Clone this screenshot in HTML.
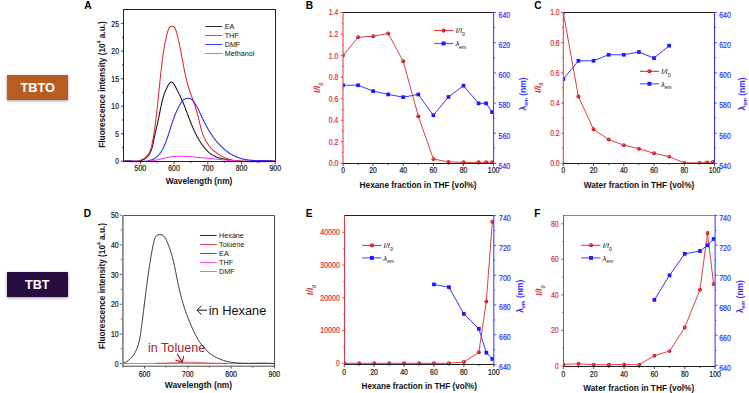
<!DOCTYPE html>
<html><head><meta charset="utf-8"><style>
html,body{margin:0;padding:0;background:#fff;width:749px;height:393px;overflow:hidden}
svg{display:block;font-family:"Liberation Sans", sans-serif}
</style></head><body>
<svg width="749" height="393" viewBox="0 0 749 393">
<rect width="749" height="393" fill="#fff"/>
<defs><filter id="sh" x="-20%" y="-30%" width="140%" height="160%"><feGaussianBlur in="SourceAlpha" stdDeviation="1.8"/><feOffset dx="0" dy="0.6" result="b"/><feComponentTransfer><feFuncA type="linear" slope="0.4"/></feComponentTransfer><feMerge><feMergeNode/><feMergeNode in="SourceGraphic"/></feMerge></filter></defs>
<rect x="7" y="75" width="61" height="25" fill="#b95b21" filter="url(#sh)"/>
<text x="37.7" y="92.4" font-size="13" fill="#fff" text-anchor="middle" font-weight="bold" font-style="normal" textLength="34.6" lengthAdjust="spacingAndGlyphs" >TBTO</text>
<rect x="7" y="272" width="61" height="25" fill="#29103f" filter="url(#sh)"/>
<text x="37.3" y="289" font-size="13" fill="#fff" text-anchor="middle" font-weight="bold" font-style="normal" textLength="24.6" lengthAdjust="spacingAndGlyphs" >TBT</text>
<text x="84.3" y="8.9" font-size="10.2" fill="#000" text-anchor="start" font-weight="bold" font-style="normal" >A</text>
<text x="305.7" y="8.9" font-size="10.2" fill="#000" text-anchor="start" font-weight="bold" font-style="normal" >B</text>
<text x="534.3" y="8.9" font-size="10.2" fill="#000" text-anchor="start" font-weight="bold" font-style="normal" >C</text>
<text x="83.8" y="216.5" font-size="10.2" fill="#000" text-anchor="start" font-weight="bold" font-style="normal" >D</text>
<text x="305.7" y="216.5" font-size="10.2" fill="#000" text-anchor="start" font-weight="bold" font-style="normal" >E</text>
<text x="534.3" y="216.5" font-size="10.2" fill="#000" text-anchor="start" font-weight="bold" font-style="normal" >F</text>
<path d="M123.5,161.31 L123.99,161.22 L124.49,161.14 L124.99,161.08 L125.49,161.03 L125.99,160.99 L126.5,160.97 L127,160.95 L127.51,160.95 L128.02,160.95 L128.53,160.96 L129.05,160.97 L129.56,160.99 L130.08,161.02 L130.59,161.04 L131.11,161.07 L131.62,161.1 L132.14,161.13 L132.66,161.16 L133.17,161.19 L133.69,161.21 L134.21,161.23 L134.72,161.24 L135.23,161.25 L135.75,161.25 L136.26,161.24 L136.77,161.23 L137.28,161.2 L137.79,161.16 L138.29,161.11 L138.79,161.04 L139.3,160.97 L139.79,160.87 L140.29,160.76 L140.78,160.63 L141.27,160.49 L141.76,160.32 L142.24,160.14 L142.72,159.94 L143.19,159.72 L143.66,159.49 L144.11,159.24 L144.56,158.98 L145,158.7 L145.43,158.41 L145.84,158.1 L146.25,157.78 L146.64,157.45 L147.02,157.11 L147.38,156.76 L147.73,156.39 L148.06,156.02 L148.38,155.63 L148.69,155.24 L148.98,154.84 L149.25,154.43 L149.52,154.01 L149.77,153.58 L150.01,153.15 L150.24,152.71 L150.46,152.26 L150.66,151.8 L150.86,151.34 L151.05,150.87 L151.23,150.4 L151.4,149.92 L151.57,149.44 L151.72,148.96 L151.87,148.46 L152.01,147.97 L152.15,147.47 L152.28,146.97 L152.41,146.47 L152.53,145.96 L152.65,145.45 L152.77,144.94 L152.88,144.43 L152.99,143.92 L153.1,143.41 L153.2,142.9 L153.31,142.39 L153.41,141.88 L153.52,141.37 L153.63,140.86 L153.73,140.35 L153.84,139.84 L153.94,139.34 L154.05,138.83 L154.16,138.33 L154.27,137.83 L154.38,137.32 L154.48,136.82 L154.59,136.32 L154.7,135.83 L154.81,135.33 L154.92,134.83 L155.03,134.33 L155.14,133.84 L155.25,133.34 L155.36,132.85 L155.47,132.35 L155.58,131.86 L155.69,131.37 L155.8,130.88 L155.91,130.38 L156.02,129.89 L156.14,129.4 L156.25,128.91 L156.36,128.42 L156.47,127.93 L156.58,127.44 L156.69,126.95 L156.8,126.46 L156.91,125.97 L157.02,125.48 L157.13,124.99 L157.24,124.5 L157.35,124.01 L157.46,123.52 L157.56,123.03 L157.67,122.54 L157.78,122.05 L157.89,121.56 L158,121.07 L158.1,120.57 L158.21,120.08 L158.32,119.59 L158.42,119.1 L158.53,118.61 L158.63,118.11 L158.74,117.62 L158.84,117.12 L158.94,116.63 L159.05,116.13 L159.15,115.63 L159.25,115.14 L159.35,114.64 L159.45,114.14 L159.55,113.64 L159.65,113.14 L159.75,112.64 L159.85,112.13 L159.95,111.63 L160.05,111.13 L160.15,110.62 L160.24,110.12 L160.34,109.62 L160.44,109.11 L160.54,108.61 L160.64,108.1 L160.74,107.6 L160.85,107.09 L160.95,106.59 L161.05,106.08 L161.16,105.58 L161.27,105.07 L161.37,104.57 L161.48,104.06 L161.6,103.56 L161.71,103.06 L161.82,102.55 L161.94,102.05 L162.06,101.55 L162.18,101.05 L162.31,100.55 L162.43,100.05 L162.56,99.55 L162.69,99.05 L162.83,98.56 L162.96,98.06 L163.1,97.57 L163.25,97.08 L163.39,96.58 L163.54,96.09 L163.7,95.61 L163.85,95.12 L164.02,94.63 L164.18,94.15 L164.35,93.67 L164.52,93.18 L164.7,92.71 L164.88,92.23 L165.07,91.75 L165.26,91.28 L165.45,90.81 L165.65,90.34 L165.85,89.87 L166.06,89.41 L166.28,88.94 L166.5,88.48 L166.72,88.03 L166.95,87.57 L167.19,87.12 L167.43,86.67 L167.68,86.22 L167.93,85.77 L168.19,85.33 L168.45,84.89 L168.73,84.46 L169,84.02 L169.29,83.61 L169.58,83.21 L169.88,82.86 L170.2,82.55 L170.52,82.31 L170.85,82.14 L171.2,82.06 L171.56,82.06 L171.92,82.15 L172.28,82.31 L172.63,82.54 L172.98,82.83 L173.31,83.19 L173.62,83.59 L173.93,84.04 L174.22,84.51 L174.51,85.01 L174.78,85.53 L175.05,86.05 L175.32,86.57 L175.58,87.08 L175.84,87.58 L176.1,88.07 L176.35,88.56 L176.6,89.04 L176.85,89.52 L177.1,89.99 L177.34,90.46 L177.58,90.92 L177.82,91.38 L178.05,91.83 L178.28,92.28 L178.52,92.73 L178.74,93.18 L178.97,93.62 L179.19,94.07 L179.42,94.51 L179.64,94.96 L179.85,95.4 L180.07,95.85 L180.28,96.3 L180.5,96.75 L180.71,97.2 L180.92,97.65 L181.12,98.1 L181.33,98.56 L181.53,99.01 L181.74,99.47 L181.94,99.93 L182.14,100.39 L182.33,100.85 L182.53,101.31 L182.73,101.78 L182.92,102.24 L183.12,102.71 L183.31,103.17 L183.5,103.64 L183.69,104.11 L183.88,104.58 L184.07,105.05 L184.26,105.52 L184.44,105.99 L184.63,106.47 L184.82,106.94 L185,107.41 L185.18,107.89 L185.37,108.36 L185.55,108.84 L185.73,109.31 L185.92,109.79 L186.1,110.27 L186.28,110.75 L186.46,111.22 L186.64,111.7 L186.82,112.18 L187,112.66 L187.18,113.14 L187.36,113.62 L187.54,114.1 L187.73,114.58 L187.91,115.06 L188.09,115.54 L188.27,116.02 L188.45,116.5 L188.63,116.98 L188.81,117.46 L189,117.94 L189.18,118.42 L189.36,118.9 L189.55,119.38 L189.73,119.86 L189.92,120.34 L190.1,120.81 L190.29,121.29 L190.48,121.77 L190.67,122.25 L190.86,122.73 L191.05,123.2 L191.24,123.68 L191.43,124.15 L191.62,124.63 L191.82,125.1 L192.02,125.58 L192.21,126.05 L192.41,126.52 L192.61,126.99 L192.81,127.47 L193.01,127.94 L193.22,128.4 L193.42,128.87 L193.63,129.34 L193.84,129.81 L194.05,130.27 L194.26,130.74 L194.48,131.2 L194.69,131.66 L194.91,132.12 L195.13,132.58 L195.35,133.04 L195.58,133.5 L195.8,133.95 L196.03,134.41 L196.26,134.86 L196.49,135.32 L196.73,135.77 L196.96,136.22 L197.2,136.66 L197.45,137.11 L197.69,137.55 L197.94,138 L198.19,138.44 L198.44,138.88 L198.69,139.32 L198.95,139.75 L199.21,140.19 L199.47,140.62 L199.74,141.05 L200.01,141.48 L200.28,141.91 L200.55,142.33 L200.83,142.76 L201.11,143.18 L201.4,143.6 L201.68,144.01 L201.97,144.43 L202.27,144.84 L202.56,145.25 L202.86,145.66 L203.17,146.07 L203.48,146.47 L203.79,146.87 L204.1,147.27 L204.42,147.67 L204.74,148.06 L205.07,148.45 L205.4,148.84 L205.73,149.22 L206.07,149.6 L206.41,149.98 L206.76,150.35 L207.11,150.71 L207.47,151.07 L207.83,151.42 L208.2,151.77 L208.57,152.12 L208.95,152.45 L209.33,152.78 L209.71,153.1 L210.11,153.42 L210.5,153.73 L210.91,154.03 L211.32,154.32 L211.73,154.6 L212.15,154.88 L212.58,155.15 L213.01,155.4 L213.45,155.65 L213.9,155.89 L214.35,156.12 L214.81,156.34 L215.28,156.55 L215.75,156.75 L216.22,156.94 L216.7,157.13 L217.19,157.3 L217.68,157.47 L218.17,157.63 L218.66,157.79 L219.16,157.94 L219.66,158.08 L220.17,158.22 L220.67,158.35 L221.17,158.48 L221.68,158.6 L222.19,158.72 L222.69,158.84 L223.2,158.95 L223.7,159.06 L224.21,159.17 L224.71,159.27 L225.22,159.38 L225.72,159.47 L226.23,159.57 L226.73,159.66 L227.24,159.75 L227.74,159.83 L228.25,159.92 L228.75,159.99 L229.26,160.07 L229.76,160.15 L230.27,160.22 L230.77,160.29 L231.28,160.35 L231.78,160.42 L232.29,160.48 L232.79,160.54 L233.3,160.59 L233.8,160.65 L234.31,160.7 L234.81,160.75 L235.32,160.79 L235.82,160.84 L236.33,160.88 L236.83,160.92 L237.34,160.96 L237.84,161 L238.35,161.03 L238.85,161.06 L239.36,161.09 L239.86,161.12 L240.36,161.15 L240.87,161.18 L241.37,161.2 L241.88,161.22 L242.39,161.24 L242.89,161.26 L243.4,161.28 L243.9,161.29 L244.41,161.31 L244.91,161.32 L245.42,161.33 L245.92,161.34 L246.43,161.35 L246.93,161.36 L247.44,161.37 L247.95,161.37 L248.45,161.38 L248.96,161.38 L249.46,161.38 L249.97,161.38 L250.48,161.38 L250.98,161.38 L251.49,161.38 L252,161.38 L252.5,161.38 L253.01,161.38 L253.52,161.37 L254.03,161.37 L254.53,161.36 L255.04,161.36 L255.55,161.35 L256.06,161.35 L256.57,161.34 L257.07,161.33 L257.58,161.33 L258.09,161.32 L258.6,161.31 L259.11,161.31 L259.62,161.3 L260.13,161.29 L260.64,161.28 L261.15,161.28 L261.66,161.27 L262.17,161.26 L262.68,161.26 L263.19,161.25 L263.7,161.24 L264.21,161.24 L264.72,161.23 L265.23,161.23 L265.74,161.22 L266.25,161.22 L266.76,161.22 L267.28,161.21 L267.79,161.21 L268.3,161.21 L268.81,161.21 L269.33,161.21 L269.84,161.21 L270.35,161.21 L270.87,161.22 L271.38,161.22 L271.9,161.22 L272.41,161.23 L272.93,161.24 L273.44,161.25 L273.96,161.26 L274.47,161.27 L274.99,161.28 L275.51,161.29" fill="none" stroke="#141414" stroke-width="1.05" stroke-linejoin="round"/>
<path d="M123.5,161.31 L124.22,161.23 L124.94,161.17 L125.66,161.13 L126.38,161.1 L127.1,161.1 L127.82,161.1 L128.53,161.12 L129.25,161.14 L129.96,161.17 L130.67,161.2 L131.38,161.22 L132.09,161.24 L132.8,161.26 L133.51,161.26 L134.22,161.25 L134.93,161.22 L135.64,161.18 L136.35,161.11 L137.05,161.02 L137.76,160.9 L138.47,160.75 L139.17,160.57 L139.87,160.35 L140.57,160.11 L141.25,159.85 L141.92,159.55 L142.58,159.23 L143.22,158.88 L143.85,158.5 L144.45,158.1 L145.03,157.68 L145.58,157.23 L146.11,156.76 L146.6,156.27 L147.07,155.76 L147.52,155.23 L147.93,154.68 L148.33,154.12 L148.7,153.53 L149.04,152.93 L149.37,152.32 L149.68,151.69 L149.97,151.05 L150.24,150.4 L150.49,149.74 L150.73,149.06 L150.95,148.38 L151.16,147.69 L151.36,146.99 L151.54,146.28 L151.72,145.57 L151.88,144.86 L152.04,144.14 L152.19,143.42 L152.34,142.7 L152.48,141.98 L152.61,141.25 L152.75,140.53 L152.88,139.81 L153.01,139.09 L153.14,138.38 L153.26,137.66 L153.38,136.95 L153.5,136.23 L153.62,135.52 L153.74,134.81 L153.85,134.1 L153.97,133.39 L154.08,132.68 L154.19,131.97 L154.3,131.27 L154.4,130.56 L154.51,129.86 L154.61,129.15 L154.71,128.45 L154.81,127.75 L154.91,127.04 L155.01,126.34 L155.1,125.64 L155.2,124.93 L155.29,124.23 L155.38,123.53 L155.47,122.83 L155.56,122.13 L155.65,121.43 L155.74,120.72 L155.83,120.02 L155.91,119.32 L156,118.62 L156.08,117.91 L156.17,117.21 L156.25,116.51 L156.33,115.8 L156.42,115.1 L156.5,114.39 L156.58,113.68 L156.66,112.98 L156.74,112.27 L156.82,111.56 L156.9,110.85 L156.98,110.14 L157.05,109.43 L157.13,108.72 L157.21,108.01 L157.29,107.3 L157.36,106.59 L157.44,105.88 L157.51,105.17 L157.59,104.45 L157.66,103.74 L157.74,103.03 L157.81,102.32 L157.89,101.6 L157.96,100.89 L158.04,100.17 L158.11,99.46 L158.18,98.74 L158.26,98.03 L158.33,97.31 L158.4,96.6 L158.48,95.88 L158.55,95.17 L158.62,94.45 L158.69,93.74 L158.77,93.02 L158.84,92.3 L158.91,91.59 L158.98,90.87 L159.06,90.16 L159.13,89.44 L159.2,88.72 L159.27,88.01 L159.35,87.29 L159.42,86.58 L159.49,85.86 L159.56,85.14 L159.64,84.43 L159.71,83.71 L159.78,83 L159.86,82.28 L159.93,81.57 L160.01,80.85 L160.08,80.14 L160.15,79.42 L160.23,78.71 L160.3,78 L160.38,77.28 L160.45,76.57 L160.53,75.86 L160.61,75.14 L160.68,74.43 L160.76,73.72 L160.84,73.01 L160.92,72.3 L160.99,71.59 L161.07,70.88 L161.15,70.17 L161.23,69.46 L161.31,68.75 L161.39,68.04 L161.47,67.33 L161.56,66.62 L161.64,65.92 L161.72,65.21 L161.81,64.51 L161.89,63.8 L161.97,63.1 L162.06,62.39 L162.15,61.69 L162.23,60.99 L162.32,60.29 L162.41,59.59 L162.5,58.89 L162.59,58.19 L162.68,57.49 L162.77,56.79 L162.87,56.09 L162.96,55.39 L163.06,54.69 L163.16,53.99 L163.26,53.3 L163.36,52.6 L163.46,51.9 L163.57,51.2 L163.68,50.5 L163.79,49.8 L163.9,49.1 L164.02,48.4 L164.14,47.7 L164.26,47 L164.38,46.29 L164.51,45.59 L164.64,44.89 L164.77,44.18 L164.91,43.47 L165.05,42.77 L165.19,42.06 L165.34,41.35 L165.49,40.63 L165.64,39.92 L165.8,39.21 L165.97,38.49 L166.13,37.77 L166.3,37.05 L166.48,36.33 L166.66,35.61 L166.84,34.88 L167.03,34.15 L167.23,33.42 L167.43,32.69 L167.63,31.96 L167.84,31.22 L168.06,30.5 L168.31,29.79 L168.58,29.11 L168.88,28.47 L169.23,27.88 L169.62,27.35 L170.07,26.89 L170.58,26.52 L171.12,26.27 L171.71,26.16 L172.31,26.21 L172.92,26.39 L173.5,26.69 L174.03,27.08 L174.5,27.56 L174.91,28.1 L175.26,28.7 L175.56,29.35 L175.82,30.04 L176.06,30.75 L176.27,31.48 L176.48,32.21 L176.68,32.94 L176.88,33.67 L177.07,34.39 L177.26,35.11 L177.44,35.83 L177.62,36.55 L177.8,37.27 L177.98,37.98 L178.15,38.69 L178.32,39.4 L178.49,40.11 L178.65,40.82 L178.81,41.52 L178.97,42.23 L179.12,42.93 L179.28,43.63 L179.43,44.33 L179.57,45.03 L179.72,45.72 L179.87,46.42 L180.01,47.12 L180.15,47.81 L180.29,48.5 L180.43,49.2 L180.56,49.89 L180.7,50.59 L180.83,51.28 L180.96,51.97 L181.1,52.66 L181.23,53.36 L181.36,54.05 L181.49,54.74 L181.61,55.43 L181.74,56.13 L181.87,56.82 L182,57.52 L182.13,58.21 L182.25,58.91 L182.38,59.6 L182.51,60.3 L182.64,61 L182.76,61.7 L182.89,62.4 L183.02,63.1 L183.15,63.8 L183.28,64.51 L183.41,65.21 L183.55,65.92 L183.68,66.62 L183.82,67.33 L183.95,68.03 L184.09,68.74 L184.23,69.44 L184.37,70.15 L184.51,70.86 L184.65,71.56 L184.8,72.27 L184.94,72.97 L185.09,73.68 L185.24,74.38 L185.4,75.09 L185.55,75.79 L185.71,76.5 L185.87,77.2 L186.03,77.9 L186.2,78.6 L186.37,79.3 L186.54,80 L186.71,80.7 L186.89,81.39 L187.07,82.09 L187.25,82.78 L187.44,83.47 L187.63,84.16 L187.82,84.85 L188.02,85.54 L188.22,86.22 L188.43,86.91 L188.63,87.59 L188.85,88.27 L189.06,88.94 L189.28,89.62 L189.5,90.29 L189.73,90.97 L189.96,91.64 L190.19,92.31 L190.42,92.98 L190.65,93.64 L190.89,94.31 L191.13,94.98 L191.37,95.64 L191.61,96.31 L191.85,96.97 L192.09,97.64 L192.33,98.3 L192.57,98.97 L192.81,99.63 L193.05,100.3 L193.29,100.96 L193.53,101.63 L193.77,102.3 L194.01,102.97 L194.24,103.64 L194.48,104.31 L194.71,104.98 L194.94,105.65 L195.16,106.33 L195.39,107 L195.61,107.68 L195.83,108.36 L196.04,109.04 L196.25,109.73 L196.46,110.41 L196.66,111.1 L196.85,111.8 L197.05,112.49 L197.24,113.19 L197.42,113.89 L197.6,114.59 L197.78,115.29 L197.96,116 L198.13,116.7 L198.3,117.41 L198.47,118.12 L198.64,118.83 L198.81,119.53 L198.98,120.24 L199.15,120.95 L199.31,121.66 L199.48,122.37 L199.65,123.08 L199.83,123.79 L200,124.5 L200.18,125.2 L200.36,125.91 L200.54,126.61 L200.72,127.31 L200.91,128.01 L201.1,128.71 L201.3,129.4 L201.5,130.09 L201.71,130.78 L201.92,131.47 L202.14,132.15 L202.37,132.83 L202.6,133.5 L202.84,134.17 L203.09,134.84 L203.34,135.5 L203.61,136.16 L203.88,136.82 L204.16,137.47 L204.45,138.11 L204.75,138.75 L205.06,139.38 L205.38,140.01 L205.71,140.63 L206.05,141.24 L206.4,141.85 L206.77,142.45 L207.15,143.05 L207.54,143.64 L207.94,144.22 L208.36,144.79 L208.78,145.36 L209.22,145.91 L209.67,146.46 L210.13,147.01 L210.6,147.54 L211.08,148.07 L211.57,148.59 L212.07,149.09 L212.58,149.6 L213.1,150.09 L213.63,150.57 L214.16,151.04 L214.71,151.51 L215.26,151.96 L215.83,152.41 L216.4,152.84 L216.98,153.27 L217.56,153.68 L218.16,154.09 L218.76,154.48 L219.36,154.86 L219.98,155.24 L220.6,155.6 L221.22,155.95 L221.86,156.29 L222.49,156.62 L223.14,156.93 L223.79,157.24 L224.44,157.53 L225.1,157.81 L225.76,158.08 L226.43,158.34 L227.1,158.58 L227.77,158.81 L228.45,159.03 L229.13,159.24 L229.81,159.43 L230.5,159.61 L231.19,159.78 L231.88,159.94 L232.58,160.09 L233.27,160.22 L233.98,160.35 L234.68,160.47 L235.38,160.57 L236.09,160.67 L236.8,160.76 L237.51,160.84 L238.23,160.91 L238.94,160.97 L239.66,161.03 L240.38,161.07 L241.1,161.11 L241.82,161.15 L242.55,161.17 L243.27,161.2 L244,161.21 L244.72,161.22 L245.45,161.23 L246.18,161.23 L246.91,161.22 L247.64,161.22 L248.37,161.2 L249.1,161.19 L249.83,161.17 L250.56,161.15 L251.29,161.13 L252.02,161.1 L252.76,161.08 L253.49,161.05 L254.22,161.02 L254.95,160.99 L255.68,160.96 L256.41,160.93 L257.14,160.9 L257.86,160.87 L258.59,160.84 L259.32,160.81 L260.04,160.79 L260.76,160.76 L261.49,160.74 L262.21,160.72 L262.93,160.71 L263.64,160.69 L264.36,160.68 L265.07,160.68 L265.78,160.68 L266.49,160.68 L267.2,160.69 L267.91,160.71 L268.61,160.73 L269.31,160.75 L270.01,160.79 L270.71,160.82 L271.4,160.87 L272.09,160.92 L272.78,160.98 L273.46,161.05 L274.14,161.13 L274.82,161.22 L275.49,161.31" fill="none" stroke="#e0262f" stroke-width="1.05" stroke-linejoin="round"/>
<path d="M123.51,161.28 L123.87,161.24 L124.23,161.21 L124.6,161.18 L124.97,161.15 L125.35,161.13 L125.73,161.12 L126.13,161.1 L126.52,161.09 L126.93,161.09 L127.34,161.08 L127.75,161.09 L128.17,161.09 L128.59,161.09 L129.02,161.1 L129.45,161.11 L129.89,161.13 L130.33,161.14 L130.77,161.16 L131.22,161.17 L131.67,161.19 L132.13,161.21 L132.58,161.23 L133.04,161.25 L133.51,161.27 L133.97,161.29 L134.44,161.31 L134.91,161.34 L135.38,161.35 L135.85,161.37 L136.32,161.39 L136.8,161.41 L137.27,161.42 L137.75,161.44 L138.23,161.45 L138.7,161.46 L139.18,161.46 L139.66,161.47 L140.14,161.47 L140.61,161.47 L141.09,161.46 L141.56,161.46 L142.04,161.44 L142.51,161.43 L142.98,161.41 L143.45,161.38 L143.92,161.36 L144.39,161.32 L144.85,161.28 L145.31,161.24 L145.77,161.19 L146.23,161.14 L146.68,161.08 L147.13,161.01 L147.58,160.94 L148.02,160.86 L148.46,160.78 L148.89,160.68 L149.32,160.58 L149.75,160.48 L150.17,160.36 L150.59,160.24 L151,160.11 L151.41,159.97 L151.81,159.82 L152.21,159.67 L152.6,159.5 L152.98,159.33 L153.36,159.15 L153.73,158.96 L154.09,158.75 L154.45,158.54 L154.81,158.32 L155.15,158.1 L155.5,157.86 L155.83,157.62 L156.16,157.36 L156.49,157.1 L156.8,156.84 L157.12,156.56 L157.43,156.28 L157.73,155.99 L158.03,155.69 L158.32,155.39 L158.61,155.08 L158.89,154.76 L159.17,154.44 L159.44,154.11 L159.71,153.77 L159.97,153.43 L160.23,153.08 L160.49,152.73 L160.74,152.37 L160.98,152.01 L161.22,151.64 L161.46,151.27 L161.7,150.89 L161.93,150.51 L162.15,150.12 L162.37,149.73 L162.59,149.34 L162.81,148.94 L163.02,148.54 L163.22,148.14 L163.43,147.73 L163.63,147.32 L163.83,146.9 L164.02,146.49 L164.21,146.07 L164.4,145.64 L164.59,145.22 L164.77,144.8 L164.95,144.37 L165.13,143.94 L165.3,143.51 L165.47,143.08 L165.64,142.64 L165.81,142.21 L165.97,141.77 L166.14,141.34 L166.3,140.9 L166.46,140.47 L166.61,140.03 L166.77,139.59 L166.92,139.16 L167.07,138.72 L167.22,138.29 L167.37,137.85 L167.52,137.42 L167.66,136.99 L167.8,136.56 L167.95,136.12 L168.09,135.7 L168.23,135.27 L168.37,134.84 L168.51,134.41 L168.64,133.99 L168.78,133.56 L168.92,133.14 L169.05,132.71 L169.18,132.29 L169.32,131.87 L169.45,131.45 L169.58,131.03 L169.71,130.61 L169.85,130.19 L169.98,129.77 L170.11,129.36 L170.24,128.94 L170.37,128.52 L170.5,128.11 L170.63,127.69 L170.76,127.28 L170.89,126.87 L171.02,126.46 L171.15,126.04 L171.28,125.63 L171.41,125.22 L171.54,124.81 L171.68,124.4 L171.81,123.99 L171.94,123.58 L172.08,123.17 L172.21,122.76 L172.35,122.36 L172.48,121.95 L172.62,121.54 L172.76,121.14 L172.9,120.73 L173.04,120.32 L173.18,119.92 L173.32,119.51 L173.47,119.11 L173.61,118.7 L173.76,118.3 L173.91,117.9 L174.05,117.49 L174.21,117.09 L174.36,116.68 L174.51,116.28 L174.67,115.88 L174.83,115.47 L174.99,115.07 L175.15,114.67 L175.31,114.27 L175.48,113.86 L175.65,113.46 L175.82,113.06 L175.99,112.66 L176.16,112.25 L176.34,111.85 L176.52,111.45 L176.7,111.05 L176.89,110.64 L177.07,110.24 L177.26,109.84 L177.46,109.43 L177.65,109.03 L177.85,108.63 L178.05,108.22 L178.26,107.82 L178.46,107.42 L178.67,107.01 L178.89,106.61 L179.1,106.21 L179.32,105.8 L179.55,105.4 L179.77,104.99 L180,104.58 L180.24,104.18 L180.48,103.78 L180.72,103.38 L180.97,102.98 L181.23,102.59 L181.49,102.21 L181.76,101.84 L182.04,101.47 L182.33,101.13 L182.62,100.79 L182.93,100.47 L183.25,100.16 L183.58,99.88 L183.92,99.61 L184.27,99.37 L184.64,99.14 L185.02,98.94 L185.41,98.77 L185.82,98.62 L186.23,98.49 L186.65,98.4 L187.07,98.32 L187.49,98.28 L187.92,98.26 L188.34,98.26 L188.76,98.3 L189.18,98.36 L189.59,98.45 L189.99,98.57 L190.37,98.71 L190.75,98.89 L191.11,99.09 L191.46,99.32 L191.8,99.57 L192.13,99.84 L192.44,100.14 L192.75,100.45 L193.05,100.77 L193.34,101.11 L193.62,101.46 L193.9,101.82 L194.16,102.19 L194.43,102.57 L194.68,102.95 L194.93,103.33 L195.17,103.72 L195.41,104.1 L195.65,104.49 L195.88,104.87 L196.1,105.26 L196.32,105.65 L196.54,106.04 L196.75,106.43 L196.96,106.82 L197.17,107.21 L197.38,107.6 L197.58,107.99 L197.78,108.38 L197.97,108.78 L198.17,109.17 L198.36,109.56 L198.55,109.96 L198.74,110.35 L198.92,110.75 L199.11,111.14 L199.29,111.54 L199.48,111.94 L199.66,112.33 L199.84,112.73 L200.03,113.13 L200.21,113.53 L200.39,113.93 L200.57,114.32 L200.76,114.72 L200.94,115.12 L201.12,115.52 L201.31,115.92 L201.5,116.32 L201.68,116.72 L201.87,117.12 L202.06,117.52 L202.25,117.92 L202.44,118.31 L202.63,118.71 L202.83,119.11 L203.02,119.51 L203.22,119.91 L203.41,120.31 L203.61,120.71 L203.81,121.1 L204.01,121.5 L204.21,121.9 L204.41,122.3 L204.61,122.69 L204.81,123.09 L205.02,123.48 L205.22,123.88 L205.43,124.28 L205.64,124.67 L205.85,125.06 L206.06,125.46 L206.27,125.85 L206.48,126.24 L206.7,126.63 L206.92,127.02 L207.13,127.41 L207.35,127.8 L207.57,128.19 L207.79,128.58 L208.02,128.96 L208.24,129.35 L208.47,129.74 L208.69,130.12 L208.92,130.5 L209.15,130.89 L209.38,131.27 L209.62,131.65 L209.85,132.03 L210.09,132.4 L210.33,132.78 L210.57,133.16 L210.81,133.53 L211.05,133.9 L211.3,134.28 L211.54,134.65 L211.79,135.02 L212.04,135.39 L212.29,135.75 L212.54,136.12 L212.8,136.48 L213.06,136.84 L213.31,137.21 L213.57,137.57 L213.84,137.92 L214.1,138.28 L214.37,138.64 L214.64,138.99 L214.9,139.34 L215.18,139.69 L215.45,140.04 L215.73,140.39 L216,140.73 L216.28,141.07 L216.56,141.42 L216.85,141.76 L217.13,142.09 L217.42,142.43 L217.71,142.76 L218,143.09 L218.3,143.42 L218.59,143.75 L218.89,144.08 L219.19,144.4 L219.5,144.72 L219.8,145.04 L220.11,145.36 L220.42,145.68 L220.73,145.99 L221.04,146.3 L221.36,146.61 L221.68,146.91 L222,147.22 L222.32,147.52 L222.65,147.82 L222.97,148.11 L223.3,148.41 L223.63,148.7 L223.97,148.99 L224.3,149.27 L224.64,149.56 L224.98,149.84 L225.32,150.12 L225.67,150.39 L226.02,150.66 L226.36,150.93 L226.72,151.2 L227.07,151.46 L227.42,151.72 L227.78,151.98 L228.14,152.23 L228.5,152.48 L228.86,152.73 L229.23,152.97 L229.59,153.21 L229.96,153.45 L230.33,153.68 L230.71,153.91 L231.08,154.14 L231.46,154.36 L231.84,154.58 L232.22,154.8 L232.6,155.01 L232.98,155.22 L233.37,155.42 L233.76,155.62 L234.15,155.82 L234.54,156.01 L234.93,156.2 L235.33,156.39 L235.72,156.57 L236.12,156.74 L236.52,156.92 L236.93,157.09 L237.33,157.25 L237.74,157.41 L238.15,157.57 L238.55,157.72 L238.97,157.87 L239.38,158.01 L239.79,158.15 L240.21,158.28 L240.63,158.41 L241.05,158.53 L241.47,158.65 L241.89,158.77 L242.32,158.88 L242.74,158.99 L243.17,159.09 L243.6,159.19 L244.03,159.28 L244.46,159.37 L244.9,159.45 L245.33,159.53 L245.77,159.61 L246.2,159.68 L246.64,159.75 L247.08,159.82 L247.52,159.88 L247.96,159.94 L248.41,159.99 L248.85,160.05 L249.29,160.09 L249.74,160.14 L250.19,160.18 L250.63,160.23 L251.08,160.26 L251.53,160.3 L251.98,160.33 L252.43,160.36 L252.88,160.39 L253.33,160.42 L253.78,160.44 L254.23,160.46 L254.68,160.48 L255.13,160.5 L255.59,160.52 L256.04,160.54 L256.49,160.55 L256.94,160.56 L257.4,160.57 L257.85,160.58 L258.3,160.59 L258.75,160.6 L259.21,160.61 L259.66,160.62 L260.11,160.62 L260.56,160.63 L261.02,160.63 L261.47,160.64 L261.92,160.64 L262.37,160.65 L262.82,160.65 L263.27,160.66 L263.72,160.66 L264.17,160.67 L264.61,160.68 L265.06,160.68 L265.51,160.69 L265.95,160.7 L266.4,160.71 L266.84,160.72 L267.28,160.73 L267.73,160.74 L268.17,160.75 L268.61,160.77 L269.04,160.78 L269.48,160.8 L269.92,160.82 L270.35,160.84 L270.79,160.86 L271.22,160.88 L271.65,160.91 L272.08,160.94 L272.51,160.97 L272.93,161 L273.36,161.04 L273.78,161.08 L274.2,161.12 L274.62,161.16 L275.04,161.21 L275.46,161.26" fill="none" stroke="#2424ff" stroke-width="1.05" stroke-linejoin="round"/>
<path d="M123.5,161.27 L123.81,161.29 L124.11,161.31 L124.42,161.34 L124.73,161.36 L125.04,161.38 L125.35,161.4 L125.65,161.42 L125.96,161.45 L126.27,161.47 L126.58,161.49 L126.88,161.5 L127.19,161.52 L127.5,161.54 L127.81,161.56 L128.12,161.58 L128.42,161.59 L128.73,161.61 L129.04,161.62 L129.35,161.64 L129.65,161.65 L129.96,161.67 L130.27,161.68 L130.57,161.69 L130.88,161.71 L131.19,161.72 L131.5,161.73 L131.8,161.74 L132.11,161.75 L132.42,161.76 L132.72,161.77 L133.03,161.77 L133.34,161.78 L133.65,161.79 L133.95,161.79 L134.26,161.8 L134.57,161.8 L134.87,161.81 L135.18,161.81 L135.49,161.81 L135.79,161.81 L136.1,161.82 L136.41,161.82 L136.71,161.82 L137.02,161.82 L137.32,161.81 L137.63,161.81 L137.94,161.81 L138.24,161.8 L138.55,161.8 L138.85,161.79 L139.16,161.79 L139.47,161.78 L139.77,161.77 L140.08,161.77 L140.38,161.76 L140.69,161.75 L140.99,161.74 L141.3,161.72 L141.61,161.71 L141.91,161.7 L142.22,161.69 L142.52,161.67 L142.83,161.65 L143.13,161.64 L143.44,161.62 L143.74,161.6 L144.05,161.58 L144.35,161.56 L144.66,161.54 L144.96,161.52 L145.26,161.5 L145.57,161.48 L145.87,161.45 L146.18,161.43 L146.48,161.4 L146.79,161.37 L147.09,161.35 L147.39,161.32 L147.7,161.29 L148,161.26 L148.31,161.23 L148.61,161.19 L148.91,161.16 L149.22,161.13 L149.52,161.09 L149.82,161.05 L150.13,161.02 L150.43,160.98 L150.73,160.94 L151.04,160.9 L151.34,160.86 L151.64,160.82 L151.94,160.77 L152.25,160.73 L152.55,160.68 L152.85,160.64 L153.15,160.59 L153.46,160.54 L153.76,160.49 L154.06,160.44 L154.36,160.39 L154.66,160.34 L154.97,160.28 L155.27,160.23 L155.57,160.17 L155.87,160.12 L156.17,160.06 L156.47,160 L156.78,159.94 L157.08,159.88 L157.38,159.81 L157.68,159.75 L157.98,159.69 L158.28,159.62 L158.58,159.55 L158.88,159.48 L159.18,159.42 L159.48,159.35 L159.78,159.28 L160.08,159.2 L160.38,159.13 L160.68,159.06 L160.98,158.99 L161.28,158.92 L161.58,158.84 L161.88,158.77 L162.18,158.69 L162.48,158.62 L162.78,158.55 L163.08,158.47 L163.38,158.4 L163.68,158.33 L163.98,158.25 L164.28,158.18 L164.58,158.11 L164.88,158.04 L165.18,157.97 L165.48,157.9 L165.78,157.83 L166.08,157.76 L166.38,157.69 L166.68,157.63 L166.98,157.56 L167.28,157.5 L167.58,157.43 L167.88,157.37 L168.18,157.31 L168.48,157.25 L168.78,157.2 L169.08,157.14 L169.38,157.09 L169.68,157.03 L169.98,156.98 L170.28,156.94 L170.58,156.89 L170.88,156.84 L171.19,156.8 L171.49,156.76 L171.79,156.72 L172.09,156.68 L172.39,156.65 L172.69,156.62 L172.99,156.58 L173.3,156.55 L173.6,156.52 L173.9,156.5 L174.2,156.47 L174.5,156.45 L174.81,156.43 L175.11,156.41 L175.41,156.39 L175.71,156.37 L176.02,156.35 L176.32,156.34 L176.62,156.32 L176.92,156.31 L177.23,156.3 L177.53,156.29 L177.83,156.28 L178.14,156.28 L178.44,156.27 L178.74,156.27 L179.05,156.26 L179.35,156.26 L179.65,156.26 L179.96,156.26 L180.26,156.26 L180.56,156.26 L180.87,156.27 L181.17,156.27 L181.47,156.28 L181.78,156.28 L182.08,156.29 L182.38,156.3 L182.69,156.31 L182.99,156.32 L183.3,156.33 L183.6,156.34 L183.9,156.35 L184.21,156.37 L184.51,156.38 L184.82,156.39 L185.12,156.41 L185.42,156.43 L185.73,156.44 L186.03,156.46 L186.34,156.48 L186.64,156.49 L186.95,156.51 L187.25,156.53 L187.55,156.55 L187.86,156.57 L188.16,156.59 L188.47,156.61 L188.77,156.63 L189.08,156.65 L189.38,156.67 L189.68,156.7 L189.99,156.72 L190.29,156.74 L190.6,156.76 L190.9,156.79 L191.21,156.81 L191.51,156.83 L191.82,156.86 L192.12,156.88 L192.42,156.9 L192.73,156.93 L193.03,156.95 L193.34,156.98 L193.64,157 L193.95,157.02 L194.25,157.05 L194.56,157.07 L194.86,157.1 L195.16,157.12 L195.47,157.15 L195.77,157.18 L196.08,157.2 L196.38,157.23 L196.69,157.25 L196.99,157.28 L197.3,157.31 L197.6,157.33 L197.9,157.36 L198.21,157.39 L198.51,157.41 L198.82,157.44 L199.12,157.47 L199.43,157.5 L199.73,157.52 L200.04,157.55 L200.34,157.58 L200.64,157.61 L200.95,157.64 L201.25,157.66 L201.56,157.69 L201.86,157.72 L202.17,157.75 L202.47,157.78 L202.78,157.81 L203.08,157.83 L203.39,157.86 L203.69,157.89 L204,157.92 L204.3,157.95 L204.6,157.98 L204.91,158.01 L205.21,158.04 L205.52,158.07 L205.82,158.1 L206.13,158.13 L206.43,158.16 L206.74,158.19 L207.04,158.22 L207.35,158.25 L207.65,158.28 L207.96,158.31 L208.26,158.34 L208.56,158.37 L208.87,158.4 L209.17,158.43 L209.48,158.46 L209.78,158.49 L210.09,158.52 L210.39,158.55 L210.7,158.58 L211,158.61 L211.31,158.64 L211.61,158.67 L211.92,158.7 L212.22,158.73 L212.53,158.76 L212.83,158.79 L213.14,158.82 L213.44,158.85 L213.75,158.88 L214.05,158.91 L214.36,158.94 L214.66,158.98 L214.96,159.01 L215.27,159.04 L215.57,159.07 L215.88,159.1 L216.18,159.13 L216.49,159.16 L216.79,159.19 L217.1,159.22 L217.4,159.25 L217.71,159.28 L218.01,159.31 L218.32,159.34 L218.62,159.37 L218.93,159.4 L219.23,159.43 L219.54,159.46 L219.84,159.49 L220.15,159.52 L220.45,159.55 L220.76,159.58 L221.06,159.61 L221.37,159.64 L221.67,159.67 L221.98,159.7 L222.28,159.73 L222.59,159.76 L222.89,159.79 L223.2,159.81 L223.5,159.84 L223.81,159.87 L224.11,159.9 L224.42,159.93 L224.72,159.96 L225.03,159.99 L225.33,160.02 L225.64,160.04 L225.94,160.07 L226.25,160.1 L226.55,160.13 L226.86,160.16 L227.16,160.18 L227.47,160.21 L227.77,160.24 L228.08,160.27 L228.38,160.29 L228.69,160.32 L228.99,160.35 L229.3,160.37 L229.61,160.4 L229.91,160.43 L230.22,160.45 L230.52,160.48 L230.83,160.51 L231.13,160.53 L231.44,160.56 L231.74,160.58 L232.05,160.61 L232.35,160.63 L232.66,160.66 L232.96,160.68 L233.27,160.71 L233.57,160.73 L233.88,160.76 L234.18,160.78 L234.49,160.81 L234.8,160.83 L235.1,160.85 L235.41,160.88 L235.71,160.9 L236.02,160.92 L236.32,160.94 L236.63,160.97 L236.93,160.99 L237.24,161.01 L237.54,161.03 L237.85,161.06 L238.15,161.08 L238.46,161.1 L238.77,161.12 L239.07,161.14 L239.38,161.16 L239.68,161.18 L239.99,161.2 L240.29,161.22 L240.6,161.24 L240.9,161.26 L241.21,161.28 L241.52,161.3 L241.82,161.32 L242.13,161.33 L242.43,161.35 L242.74,161.37 L243.04,161.39 L243.35,161.4 L243.65,161.42 L243.96,161.44 L244.27,161.45 L244.57,161.47 L244.88,161.49 L245.18,161.5 L245.49,161.52 L245.79,161.53 L246.1,161.55 L246.41,161.56 L246.71,161.58 L247.02,161.59 L247.32,161.6 L247.63,161.62 L247.93,161.63 L248.24,161.64 L248.55,161.65 L248.85,161.67 L249.16,161.68 L249.46,161.69 L249.77,161.7 L250.08,161.71 L250.38,161.72 L250.69,161.73 L250.99,161.74 L251.3,161.75 L251.6,161.76 L251.91,161.77 L252.22,161.77 L252.52,161.78 L252.83,161.79 L253.13,161.8 L253.44,161.8 L253.75,161.81 L254.05,161.82 L254.36,161.82 L254.66,161.83 L254.97,161.83 L255.28,161.84 L255.58,161.84 L255.89,161.84 L256.2,161.85 L256.5,161.85 L256.81,161.85 L257.11,161.85 L257.42,161.86 L257.73,161.86 L258.03,161.86 L258.34,161.86 L258.64,161.86 L258.95,161.86 L259.26,161.86 L259.56,161.86 L259.87,161.85 L260.18,161.85 L260.48,161.85 L260.79,161.85 L261.09,161.84 L261.4,161.84 L261.71,161.84 L262.01,161.83 L262.32,161.83 L262.63,161.82 L262.93,161.82 L263.24,161.81 L263.54,161.8 L263.85,161.79 L264.16,161.79 L264.46,161.78 L264.77,161.77 L265.08,161.76 L265.38,161.75 L265.69,161.74 L266,161.73 L266.3,161.72 L266.61,161.71 L266.92,161.7 L267.22,161.68 L267.53,161.67 L267.84,161.66 L268.14,161.64 L268.45,161.63 L268.76,161.61 L269.06,161.6 L269.37,161.58 L269.68,161.56 L269.98,161.55 L270.29,161.53 L270.6,161.51 L270.9,161.49 L271.21,161.47 L271.52,161.45 L271.82,161.43 L272.13,161.41 L272.44,161.39 L272.74,161.37 L273.05,161.35 L273.36,161.32 L273.66,161.3 L273.97,161.28 L274.28,161.25 L274.58,161.23 L274.89,161.2 L275.2,161.18 L275.5,161.15" fill="none" stroke="#ff30ff" stroke-width="1.05" stroke-linejoin="round"/>
<rect x="123.5" y="9.5" width="152" height="152" fill="none" stroke="#222" stroke-width="1"/>
<line x1="123.5" y1="161.3" x2="120.9" y2="161.3" stroke="#222" stroke-width="0.8" />
<line x1="123.5" y1="133.76" x2="120.9" y2="133.76" stroke="#222" stroke-width="0.8" />
<line x1="123.5" y1="106.22" x2="120.9" y2="106.22" stroke="#222" stroke-width="0.8" />
<line x1="123.5" y1="78.68" x2="120.9" y2="78.68" stroke="#222" stroke-width="0.8" />
<line x1="123.5" y1="51.14" x2="120.9" y2="51.14" stroke="#222" stroke-width="0.8" />
<line x1="123.5" y1="23.6" x2="120.9" y2="23.6" stroke="#222" stroke-width="0.8" />
<line x1="123.5" y1="147.53" x2="122" y2="147.53" stroke="#222" stroke-width="0.8" />
<line x1="123.5" y1="119.99" x2="122" y2="119.99" stroke="#222" stroke-width="0.8" />
<line x1="123.5" y1="92.45" x2="122" y2="92.45" stroke="#222" stroke-width="0.8" />
<line x1="123.5" y1="64.91" x2="122" y2="64.91" stroke="#222" stroke-width="0.8" />
<line x1="123.5" y1="37.37" x2="122" y2="37.37" stroke="#222" stroke-width="0.8" />
<text x="119" y="164.24" font-size="8.2" fill="#222" stroke="#222" stroke-width="0.22" text-anchor="end" textLength="3.75" lengthAdjust="spacingAndGlyphs">0</text>
<text x="119" y="136.7" font-size="8.2" fill="#222" stroke="#222" stroke-width="0.22" text-anchor="end" textLength="3.75" lengthAdjust="spacingAndGlyphs">5</text>
<text x="119" y="109.16" font-size="8.2" fill="#222" stroke="#222" stroke-width="0.22" text-anchor="end" textLength="7.7" lengthAdjust="spacingAndGlyphs">10</text>
<text x="119" y="81.62" font-size="8.2" fill="#222" stroke="#222" stroke-width="0.22" text-anchor="end" textLength="7.7" lengthAdjust="spacingAndGlyphs">15</text>
<text x="119" y="54.08" font-size="8.2" fill="#222" stroke="#222" stroke-width="0.22" text-anchor="end" textLength="7.7" lengthAdjust="spacingAndGlyphs">20</text>
<text x="119" y="26.54" font-size="8.2" fill="#222" stroke="#222" stroke-width="0.22" text-anchor="end" textLength="7.7" lengthAdjust="spacingAndGlyphs">25</text>
<line x1="140.36" y1="161.5" x2="140.36" y2="164.1" stroke="#222" stroke-width="0.8" />
<line x1="174.07" y1="161.5" x2="174.07" y2="164.1" stroke="#222" stroke-width="0.8" />
<line x1="207.78" y1="161.5" x2="207.78" y2="164.1" stroke="#222" stroke-width="0.8" />
<line x1="241.49" y1="161.5" x2="241.49" y2="164.1" stroke="#222" stroke-width="0.8" />
<line x1="275.2" y1="161.5" x2="275.2" y2="164.1" stroke="#222" stroke-width="0.8" />
<line x1="157.21" y1="161.5" x2="157.21" y2="163" stroke="#222" stroke-width="0.8" />
<line x1="190.92" y1="161.5" x2="190.92" y2="163" stroke="#222" stroke-width="0.8" />
<line x1="224.63" y1="161.5" x2="224.63" y2="163" stroke="#222" stroke-width="0.8" />
<line x1="258.34" y1="161.5" x2="258.34" y2="163" stroke="#222" stroke-width="0.8" />
<text x="140.36" y="171.14" font-size="8.2" fill="#222" stroke="#222" stroke-width="0.22" text-anchor="middle" textLength="11.65" lengthAdjust="spacingAndGlyphs">500</text>
<text x="174.07" y="171.14" font-size="8.2" fill="#222" stroke="#222" stroke-width="0.22" text-anchor="middle" textLength="11.65" lengthAdjust="spacingAndGlyphs">600</text>
<text x="207.78" y="171.14" font-size="8.2" fill="#222" stroke="#222" stroke-width="0.22" text-anchor="middle" textLength="11.65" lengthAdjust="spacingAndGlyphs">700</text>
<text x="241.49" y="171.14" font-size="8.2" fill="#222" stroke="#222" stroke-width="0.22" text-anchor="middle" textLength="11.65" lengthAdjust="spacingAndGlyphs">800</text>
<text x="275.2" y="171.14" font-size="8.2" fill="#222" stroke="#222" stroke-width="0.22" text-anchor="middle" textLength="11.65" lengthAdjust="spacingAndGlyphs">900</text>
<text x="199" y="183.6" font-size="8.5" fill="#111" text-anchor="middle" font-weight="bold" font-style="normal" textLength="66.7" lengthAdjust="spacingAndGlyphs" >Wavelength (nm)</text>
<text transform="translate(104.7,84.45) rotate(-90)" x="0" y="0" font-size="8.3" font-weight="bold" fill="#111" text-anchor="middle" textLength="126.7" lengthAdjust="spacingAndGlyphs">Fluorescence intensity (10<tspan font-size="5" dy="-3.7">4</tspan><tspan dy="3.7"> a.u.)</tspan></text>
<line x1="205.2" y1="26.5" x2="222.4" y2="26.5" stroke="#1a1a1a" stroke-width="0.9" />
<text x="224.7" y="29.1" font-size="7.2" fill="#111" text-anchor="start" font-weight="normal" font-style="normal" >EA</text>
<line x1="205.2" y1="35.5" x2="222.4" y2="35.5" stroke="#e0323a" stroke-width="0.9" />
<text x="224.7" y="38.1" font-size="7.2" fill="#111" text-anchor="start" font-weight="normal" font-style="normal" >THF</text>
<line x1="205.2" y1="44.5" x2="222.4" y2="44.5" stroke="#2626ff" stroke-width="0.9" />
<text x="224.7" y="47.1" font-size="7.2" fill="#111" text-anchor="start" font-weight="normal" font-style="normal" >DMF</text>
<line x1="205.2" y1="53.5" x2="222.4" y2="53.5" stroke="#ff33ff" stroke-width="0.9" />
<text x="224.7" y="56.1" font-size="7.2" fill="#111" text-anchor="start" font-weight="normal" font-style="normal" >Methanol</text>
<clipPath id="c343_12"><rect x="343" y="12.5" width="150.6" height="151"/></clipPath><g clip-path="url(#c343_12)">
<polyline points="343,85.23 358.06,85.23 373.12,91.12 388.18,94.44 403.24,97.15 418.3,94.44 433.36,115.26 448.42,97 463.48,85.69 478.54,103.34 486.07,103.34 492.09,112.09" fill="none" stroke="#2b2bff" stroke-width="0.95" stroke-linejoin="round"/>
<polyline points="343,55.62 358.06,37.3 373.12,36.22 388.18,33.53 403.24,61.22 418.3,116.19 433.36,159.09 448.42,161.89 463.48,162.32 478.54,162.32 486.07,162.11 492.09,162.32" fill="none" stroke="#d42a2a" stroke-width="0.9" stroke-linejoin="round"/>
<rect x="341.15" y="83.38" width="3.7" height="3.7" fill="#1a1aff"/>
<rect x="356.21" y="83.38" width="3.7" height="3.7" fill="#1a1aff"/>
<rect x="371.27" y="89.27" width="3.7" height="3.7" fill="#1a1aff"/>
<rect x="386.33" y="92.59" width="3.7" height="3.7" fill="#1a1aff"/>
<rect x="401.39" y="95.3" width="3.7" height="3.7" fill="#1a1aff"/>
<rect x="416.45" y="92.59" width="3.7" height="3.7" fill="#1a1aff"/>
<rect x="431.51" y="113.41" width="3.7" height="3.7" fill="#1a1aff"/>
<rect x="446.57" y="95.15" width="3.7" height="3.7" fill="#1a1aff"/>
<rect x="461.63" y="83.84" width="3.7" height="3.7" fill="#1a1aff"/>
<rect x="476.69" y="101.49" width="3.7" height="3.7" fill="#1a1aff"/>
<rect x="484.22" y="101.49" width="3.7" height="3.7" fill="#1a1aff"/>
<rect x="490.24" y="110.24" width="3.7" height="3.7" fill="#1a1aff"/>
<circle cx="343" cy="55.62" r="1.95" fill="#d01a22"/>
<circle cx="342.5" cy="55.17" r="0.55" fill="#f6c4c4"/>
<circle cx="358.06" cy="37.3" r="1.95" fill="#d01a22"/>
<circle cx="357.56" cy="36.85" r="0.55" fill="#f6c4c4"/>
<circle cx="373.12" cy="36.22" r="1.95" fill="#d01a22"/>
<circle cx="372.62" cy="35.77" r="0.55" fill="#f6c4c4"/>
<circle cx="388.18" cy="33.53" r="1.95" fill="#d01a22"/>
<circle cx="387.68" cy="33.08" r="0.55" fill="#f6c4c4"/>
<circle cx="403.24" cy="61.22" r="1.95" fill="#d01a22"/>
<circle cx="402.74" cy="60.77" r="0.55" fill="#f6c4c4"/>
<circle cx="418.3" cy="116.19" r="1.95" fill="#d01a22"/>
<circle cx="417.8" cy="115.74" r="0.55" fill="#f6c4c4"/>
<circle cx="433.36" cy="159.09" r="1.95" fill="#d01a22"/>
<circle cx="432.86" cy="158.64" r="0.55" fill="#f6c4c4"/>
<circle cx="448.42" cy="161.89" r="1.95" fill="#d01a22"/>
<circle cx="447.92" cy="161.44" r="0.55" fill="#f6c4c4"/>
<circle cx="463.48" cy="162.32" r="1.95" fill="#d01a22"/>
<circle cx="462.98" cy="161.87" r="0.55" fill="#f6c4c4"/>
<circle cx="478.54" cy="162.32" r="1.95" fill="#d01a22"/>
<circle cx="478.04" cy="161.87" r="0.55" fill="#f6c4c4"/>
<circle cx="486.07" cy="162.11" r="1.95" fill="#d01a22"/>
<circle cx="485.57" cy="161.66" r="0.55" fill="#f6c4c4"/>
<circle cx="492.09" cy="162.32" r="1.95" fill="#d01a22"/>
<circle cx="491.59" cy="161.87" r="0.55" fill="#f6c4c4"/>
</g>
<line x1="343" y1="12.5" x2="493.6" y2="12.5" stroke="#222" stroke-width="1.0" />
<line x1="343" y1="163.5" x2="493.6" y2="163.5" stroke="#222" stroke-width="1.0" />
<line x1="343" y1="12" x2="343" y2="164" stroke="#d8343c" stroke-width="1.0" />
<line x1="493.6" y1="12" x2="493.6" y2="164" stroke="#3030ff" stroke-width="1.0" />
<line x1="343" y1="163.4" x2="340.5" y2="163.4" stroke="#d8343c" stroke-width="0.8" />
<line x1="343" y1="141.84" x2="340.5" y2="141.84" stroke="#d8343c" stroke-width="0.8" />
<line x1="343" y1="120.29" x2="340.5" y2="120.29" stroke="#d8343c" stroke-width="0.8" />
<line x1="343" y1="98.73" x2="340.5" y2="98.73" stroke="#d8343c" stroke-width="0.8" />
<line x1="343" y1="77.18" x2="340.5" y2="77.18" stroke="#d8343c" stroke-width="0.8" />
<line x1="343" y1="55.62" x2="340.5" y2="55.62" stroke="#d8343c" stroke-width="0.8" />
<line x1="343" y1="34.06" x2="340.5" y2="34.06" stroke="#d8343c" stroke-width="0.8" />
<line x1="343" y1="12.51" x2="340.5" y2="12.51" stroke="#d8343c" stroke-width="0.8" />
<line x1="343" y1="152.62" x2="341.6" y2="152.62" stroke="#d8343c" stroke-width="0.8" />
<line x1="343" y1="131.07" x2="341.6" y2="131.07" stroke="#d8343c" stroke-width="0.8" />
<line x1="343" y1="109.51" x2="341.6" y2="109.51" stroke="#d8343c" stroke-width="0.8" />
<line x1="343" y1="87.95" x2="341.6" y2="87.95" stroke="#d8343c" stroke-width="0.8" />
<line x1="343" y1="66.4" x2="341.6" y2="66.4" stroke="#d8343c" stroke-width="0.8" />
<line x1="343" y1="44.84" x2="341.6" y2="44.84" stroke="#d8343c" stroke-width="0.8" />
<line x1="343" y1="23.29" x2="341.6" y2="23.29" stroke="#d8343c" stroke-width="0.8" />
<text x="338.4" y="166.34" font-size="8.2" fill="#d8343c" stroke="#d8343c" stroke-width="0.22" text-anchor="end" textLength="9.55" lengthAdjust="spacingAndGlyphs">0.0</text>
<text x="338.4" y="144.78" font-size="8.2" fill="#d8343c" stroke="#d8343c" stroke-width="0.22" text-anchor="end" textLength="9.55" lengthAdjust="spacingAndGlyphs">0.2</text>
<text x="338.4" y="123.22" font-size="8.2" fill="#d8343c" stroke="#d8343c" stroke-width="0.22" text-anchor="end" textLength="9.55" lengthAdjust="spacingAndGlyphs">0.4</text>
<text x="338.4" y="101.67" font-size="8.2" fill="#d8343c" stroke="#d8343c" stroke-width="0.22" text-anchor="end" textLength="9.55" lengthAdjust="spacingAndGlyphs">0.6</text>
<text x="338.4" y="80.11" font-size="8.2" fill="#d8343c" stroke="#d8343c" stroke-width="0.22" text-anchor="end" textLength="9.55" lengthAdjust="spacingAndGlyphs">0.8</text>
<text x="338.4" y="58.56" font-size="8.2" fill="#d8343c" stroke="#d8343c" stroke-width="0.22" text-anchor="end" textLength="9.55" lengthAdjust="spacingAndGlyphs">1.0</text>
<text x="338.4" y="37" font-size="8.2" fill="#d8343c" stroke="#d8343c" stroke-width="0.22" text-anchor="end" textLength="9.55" lengthAdjust="spacingAndGlyphs">1.2</text>
<text x="338.4" y="15.44" font-size="8.2" fill="#d8343c" stroke="#d8343c" stroke-width="0.22" text-anchor="end" textLength="9.55" lengthAdjust="spacingAndGlyphs">1.4</text>
<line x1="493.6" y1="163.4" x2="496.1" y2="163.4" stroke="#3030ff" stroke-width="0.8" />
<line x1="493.6" y1="133.22" x2="496.1" y2="133.22" stroke="#3030ff" stroke-width="0.8" />
<line x1="493.6" y1="103.04" x2="496.1" y2="103.04" stroke="#3030ff" stroke-width="0.8" />
<line x1="493.6" y1="72.86" x2="496.1" y2="72.86" stroke="#3030ff" stroke-width="0.8" />
<line x1="493.6" y1="42.68" x2="496.1" y2="42.68" stroke="#3030ff" stroke-width="0.8" />
<line x1="493.6" y1="12.5" x2="496.1" y2="12.5" stroke="#3030ff" stroke-width="0.8" />
<line x1="493.6" y1="148.31" x2="495" y2="148.31" stroke="#3030ff" stroke-width="0.8" />
<line x1="493.6" y1="118.13" x2="495" y2="118.13" stroke="#3030ff" stroke-width="0.8" />
<line x1="493.6" y1="87.95" x2="495" y2="87.95" stroke="#3030ff" stroke-width="0.8" />
<line x1="493.6" y1="57.77" x2="495" y2="57.77" stroke="#3030ff" stroke-width="0.8" />
<line x1="493.6" y1="27.59" x2="495" y2="27.59" stroke="#3030ff" stroke-width="0.8" />
<text x="498.5" y="168.84" font-size="8.2" fill="#3030ff" stroke="#3030ff" stroke-width="0.22" text-anchor="start" textLength="11.65" lengthAdjust="spacingAndGlyphs">540</text>
<text x="498.5" y="138.66" font-size="8.2" fill="#3030ff" stroke="#3030ff" stroke-width="0.22" text-anchor="start" textLength="11.65" lengthAdjust="spacingAndGlyphs">560</text>
<text x="498.5" y="108.48" font-size="8.2" fill="#3030ff" stroke="#3030ff" stroke-width="0.22" text-anchor="start" textLength="11.65" lengthAdjust="spacingAndGlyphs">580</text>
<text x="498.5" y="78.3" font-size="8.2" fill="#3030ff" stroke="#3030ff" stroke-width="0.22" text-anchor="start" textLength="11.65" lengthAdjust="spacingAndGlyphs">600</text>
<text x="498.5" y="48.12" font-size="8.2" fill="#3030ff" stroke="#3030ff" stroke-width="0.22" text-anchor="start" textLength="11.65" lengthAdjust="spacingAndGlyphs">620</text>
<text x="498.5" y="17.94" font-size="8.2" fill="#3030ff" stroke="#3030ff" stroke-width="0.22" text-anchor="start" textLength="11.65" lengthAdjust="spacingAndGlyphs">640</text>
<line x1="343" y1="163.5" x2="343" y2="166" stroke="#222" stroke-width="0.8" />
<line x1="373.12" y1="163.5" x2="373.12" y2="166" stroke="#222" stroke-width="0.8" />
<line x1="403.24" y1="163.5" x2="403.24" y2="166" stroke="#222" stroke-width="0.8" />
<line x1="433.36" y1="163.5" x2="433.36" y2="166" stroke="#222" stroke-width="0.8" />
<line x1="463.48" y1="163.5" x2="463.48" y2="166" stroke="#222" stroke-width="0.8" />
<line x1="493.6" y1="163.5" x2="493.6" y2="166" stroke="#222" stroke-width="0.8" />
<line x1="358.06" y1="163.5" x2="358.06" y2="164.9" stroke="#222" stroke-width="0.8" />
<line x1="388.18" y1="163.5" x2="388.18" y2="164.9" stroke="#222" stroke-width="0.8" />
<line x1="418.3" y1="163.5" x2="418.3" y2="164.9" stroke="#222" stroke-width="0.8" />
<line x1="448.42" y1="163.5" x2="448.42" y2="164.9" stroke="#222" stroke-width="0.8" />
<line x1="478.54" y1="163.5" x2="478.54" y2="164.9" stroke="#222" stroke-width="0.8" />
<text x="343" y="173.34" font-size="8.2" fill="#222" stroke="#222" stroke-width="0.22" text-anchor="middle" textLength="3.75" lengthAdjust="spacingAndGlyphs">0</text>
<text x="373.12" y="173.34" font-size="8.2" fill="#222" stroke="#222" stroke-width="0.22" text-anchor="middle" textLength="7.7" lengthAdjust="spacingAndGlyphs">20</text>
<text x="403.24" y="173.34" font-size="8.2" fill="#222" stroke="#222" stroke-width="0.22" text-anchor="middle" textLength="7.7" lengthAdjust="spacingAndGlyphs">40</text>
<text x="433.36" y="173.34" font-size="8.2" fill="#222" stroke="#222" stroke-width="0.22" text-anchor="middle" textLength="7.7" lengthAdjust="spacingAndGlyphs">60</text>
<text x="463.48" y="173.34" font-size="8.2" fill="#222" stroke="#222" stroke-width="0.22" text-anchor="middle" textLength="7.7" lengthAdjust="spacingAndGlyphs">80</text>
<text x="493.6" y="173.34" font-size="8.2" fill="#222" stroke="#222" stroke-width="0.22" text-anchor="middle" textLength="11.65" lengthAdjust="spacingAndGlyphs">100</text>
<text x="418.1" y="187.5" font-size="8.5" fill="#111" text-anchor="middle" font-weight="bold" font-style="normal" textLength="117" lengthAdjust="spacingAndGlyphs" >Hexane fraction in THF (vol%)</text>
<text transform="translate(320.3,87.8) rotate(-90)" font-size="8.6" font-weight="bold" font-style="italic" fill="#d8343c" text-anchor="middle">I/I<tspan font-size="5.6" dy="2.4">0</tspan></text>
<text transform="translate(525.5,94) rotate(-90)" font-size="8.6" font-weight="bold" fill="#3030ff" text-anchor="middle" textLength="33" lengthAdjust="spacingAndGlyphs"><tspan>λ</tspan><tspan font-size="5.4" dy="2.2">em</tspan><tspan dy="-2.2"> (nm)</tspan></text>
<line x1="434" y1="30.6" x2="453.4" y2="30.6" stroke="#d42a2a" stroke-width="1.0" />
<circle cx="443.6" cy="30.6" r="2.05" fill="#d01a22"/>
<circle cx="443.1" cy="30.15" r="0.55" fill="#f6c4c4"/>
<line x1="434" y1="43.5" x2="453.4" y2="43.5" stroke="#5c5cff" stroke-width="1.2" />
<rect x="441.65" y="41.55" width="3.9" height="3.9" fill="#1a1aff"/>
<text x="455.7" y="33.3" font-size="7.6" font-style="italic" fill="#111">I/I<tspan font-size="5.2" font-style="normal" dy="2.6">0</tspan></text>
<text x="455.4" y="46.3" font-size="7.8" font-style="italic" fill="#111">λ<tspan font-size="5" font-style="normal" dy="2.4">em</tspan></text>
<clipPath id="c563_12"><rect x="563.3" y="12.5" width="151.2" height="151"/></clipPath><g clip-path="url(#c563_12)">
<polyline points="563.3,79.05 578.42,60.79 593.54,60.79 608.66,54.75 623.78,54.75 638.9,52.04 654.02,58.07 669.14,45.7" fill="none" stroke="#2b2bff" stroke-width="0.95" stroke-linejoin="round"/>
<polyline points="563.3,12.5 578.42,96.55 593.54,129.3 608.66,139.56 623.78,145.14 638.9,148.76 654.02,153.29 669.14,156.61 684.26,162.95 699.38,162.95 706.94,162.49 712.99,161.89" fill="none" stroke="#d42a2a" stroke-width="0.9" stroke-linejoin="round"/>
<rect x="561.45" y="77.2" width="3.7" height="3.7" fill="#1a1aff"/>
<rect x="576.57" y="58.94" width="3.7" height="3.7" fill="#1a1aff"/>
<rect x="591.69" y="58.94" width="3.7" height="3.7" fill="#1a1aff"/>
<rect x="606.81" y="52.9" width="3.7" height="3.7" fill="#1a1aff"/>
<rect x="621.93" y="52.9" width="3.7" height="3.7" fill="#1a1aff"/>
<rect x="637.05" y="50.19" width="3.7" height="3.7" fill="#1a1aff"/>
<rect x="652.17" y="56.22" width="3.7" height="3.7" fill="#1a1aff"/>
<rect x="667.29" y="43.85" width="3.7" height="3.7" fill="#1a1aff"/>
<circle cx="563.3" cy="12.5" r="1.95" fill="#d01a22"/>
<circle cx="562.8" cy="12.05" r="0.55" fill="#f6c4c4"/>
<circle cx="578.42" cy="96.55" r="1.95" fill="#d01a22"/>
<circle cx="577.92" cy="96.1" r="0.55" fill="#f6c4c4"/>
<circle cx="593.54" cy="129.3" r="1.95" fill="#d01a22"/>
<circle cx="593.04" cy="128.85" r="0.55" fill="#f6c4c4"/>
<circle cx="608.66" cy="139.56" r="1.95" fill="#d01a22"/>
<circle cx="608.16" cy="139.11" r="0.55" fill="#f6c4c4"/>
<circle cx="623.78" cy="145.14" r="1.95" fill="#d01a22"/>
<circle cx="623.28" cy="144.69" r="0.55" fill="#f6c4c4"/>
<circle cx="638.9" cy="148.76" r="1.95" fill="#d01a22"/>
<circle cx="638.4" cy="148.31" r="0.55" fill="#f6c4c4"/>
<circle cx="654.02" cy="153.29" r="1.95" fill="#d01a22"/>
<circle cx="653.52" cy="152.84" r="0.55" fill="#f6c4c4"/>
<circle cx="669.14" cy="156.61" r="1.95" fill="#d01a22"/>
<circle cx="668.64" cy="156.16" r="0.55" fill="#f6c4c4"/>
<circle cx="684.26" cy="162.95" r="1.95" fill="#d01a22"/>
<circle cx="683.76" cy="162.5" r="0.55" fill="#f6c4c4"/>
<circle cx="699.38" cy="162.95" r="1.95" fill="#d01a22"/>
<circle cx="698.88" cy="162.5" r="0.55" fill="#f6c4c4"/>
<circle cx="706.94" cy="162.49" r="1.95" fill="#d01a22"/>
<circle cx="706.44" cy="162.04" r="0.55" fill="#f6c4c4"/>
<circle cx="712.99" cy="161.89" r="1.95" fill="#d01a22"/>
<circle cx="712.49" cy="161.44" r="0.55" fill="#f6c4c4"/>
</g>
<line x1="563.3" y1="12.5" x2="714.5" y2="12.5" stroke="#222" stroke-width="1.0" />
<line x1="563.3" y1="163.5" x2="714.5" y2="163.5" stroke="#222" stroke-width="1.0" />
<line x1="563.3" y1="12" x2="563.3" y2="164" stroke="#d8343c" stroke-width="1.0" />
<line x1="714.5" y1="12" x2="714.5" y2="164" stroke="#3030ff" stroke-width="1.0" />
<line x1="563.3" y1="163.4" x2="560.8" y2="163.4" stroke="#d8343c" stroke-width="0.8" />
<line x1="563.3" y1="133.22" x2="560.8" y2="133.22" stroke="#d8343c" stroke-width="0.8" />
<line x1="563.3" y1="103.04" x2="560.8" y2="103.04" stroke="#d8343c" stroke-width="0.8" />
<line x1="563.3" y1="72.86" x2="560.8" y2="72.86" stroke="#d8343c" stroke-width="0.8" />
<line x1="563.3" y1="42.68" x2="560.8" y2="42.68" stroke="#d8343c" stroke-width="0.8" />
<line x1="563.3" y1="12.5" x2="560.8" y2="12.5" stroke="#d8343c" stroke-width="0.8" />
<line x1="563.3" y1="148.31" x2="561.9" y2="148.31" stroke="#d8343c" stroke-width="0.8" />
<line x1="563.3" y1="118.13" x2="561.9" y2="118.13" stroke="#d8343c" stroke-width="0.8" />
<line x1="563.3" y1="87.95" x2="561.9" y2="87.95" stroke="#d8343c" stroke-width="0.8" />
<line x1="563.3" y1="57.77" x2="561.9" y2="57.77" stroke="#d8343c" stroke-width="0.8" />
<line x1="563.3" y1="27.59" x2="561.9" y2="27.59" stroke="#d8343c" stroke-width="0.8" />
<text x="559.7" y="166.34" font-size="8.2" fill="#d8343c" stroke="#d8343c" stroke-width="0.22" text-anchor="end" textLength="9.55" lengthAdjust="spacingAndGlyphs">0.0</text>
<text x="559.7" y="136.16" font-size="8.2" fill="#d8343c" stroke="#d8343c" stroke-width="0.22" text-anchor="end" textLength="9.55" lengthAdjust="spacingAndGlyphs">0.2</text>
<text x="559.7" y="105.98" font-size="8.2" fill="#d8343c" stroke="#d8343c" stroke-width="0.22" text-anchor="end" textLength="9.55" lengthAdjust="spacingAndGlyphs">0.4</text>
<text x="559.7" y="75.8" font-size="8.2" fill="#d8343c" stroke="#d8343c" stroke-width="0.22" text-anchor="end" textLength="9.55" lengthAdjust="spacingAndGlyphs">0.6</text>
<text x="559.7" y="45.62" font-size="8.2" fill="#d8343c" stroke="#d8343c" stroke-width="0.22" text-anchor="end" textLength="9.55" lengthAdjust="spacingAndGlyphs">0.8</text>
<text x="559.7" y="15.44" font-size="8.2" fill="#d8343c" stroke="#d8343c" stroke-width="0.22" text-anchor="end" textLength="9.55" lengthAdjust="spacingAndGlyphs">1.0</text>
<line x1="714.5" y1="163.4" x2="717" y2="163.4" stroke="#3030ff" stroke-width="0.8" />
<line x1="714.5" y1="133.22" x2="717" y2="133.22" stroke="#3030ff" stroke-width="0.8" />
<line x1="714.5" y1="103.04" x2="717" y2="103.04" stroke="#3030ff" stroke-width="0.8" />
<line x1="714.5" y1="72.86" x2="717" y2="72.86" stroke="#3030ff" stroke-width="0.8" />
<line x1="714.5" y1="42.68" x2="717" y2="42.68" stroke="#3030ff" stroke-width="0.8" />
<line x1="714.5" y1="12.5" x2="717" y2="12.5" stroke="#3030ff" stroke-width="0.8" />
<line x1="714.5" y1="148.31" x2="715.9" y2="148.31" stroke="#3030ff" stroke-width="0.8" />
<line x1="714.5" y1="118.13" x2="715.9" y2="118.13" stroke="#3030ff" stroke-width="0.8" />
<line x1="714.5" y1="87.95" x2="715.9" y2="87.95" stroke="#3030ff" stroke-width="0.8" />
<line x1="714.5" y1="57.77" x2="715.9" y2="57.77" stroke="#3030ff" stroke-width="0.8" />
<line x1="714.5" y1="27.59" x2="715.9" y2="27.59" stroke="#3030ff" stroke-width="0.8" />
<text x="719.2" y="168.84" font-size="8.2" fill="#3030ff" stroke="#3030ff" stroke-width="0.22" text-anchor="start" textLength="11.65" lengthAdjust="spacingAndGlyphs">540</text>
<text x="719.2" y="138.66" font-size="8.2" fill="#3030ff" stroke="#3030ff" stroke-width="0.22" text-anchor="start" textLength="11.65" lengthAdjust="spacingAndGlyphs">560</text>
<text x="719.2" y="108.48" font-size="8.2" fill="#3030ff" stroke="#3030ff" stroke-width="0.22" text-anchor="start" textLength="11.65" lengthAdjust="spacingAndGlyphs">580</text>
<text x="719.2" y="78.3" font-size="8.2" fill="#3030ff" stroke="#3030ff" stroke-width="0.22" text-anchor="start" textLength="11.65" lengthAdjust="spacingAndGlyphs">600</text>
<text x="719.2" y="48.12" font-size="8.2" fill="#3030ff" stroke="#3030ff" stroke-width="0.22" text-anchor="start" textLength="11.65" lengthAdjust="spacingAndGlyphs">620</text>
<text x="719.2" y="17.94" font-size="8.2" fill="#3030ff" stroke="#3030ff" stroke-width="0.22" text-anchor="start" textLength="11.65" lengthAdjust="spacingAndGlyphs">640</text>
<line x1="563.3" y1="163.5" x2="563.3" y2="166" stroke="#222" stroke-width="0.8" />
<line x1="593.54" y1="163.5" x2="593.54" y2="166" stroke="#222" stroke-width="0.8" />
<line x1="623.78" y1="163.5" x2="623.78" y2="166" stroke="#222" stroke-width="0.8" />
<line x1="654.02" y1="163.5" x2="654.02" y2="166" stroke="#222" stroke-width="0.8" />
<line x1="684.26" y1="163.5" x2="684.26" y2="166" stroke="#222" stroke-width="0.8" />
<line x1="714.5" y1="163.5" x2="714.5" y2="166" stroke="#222" stroke-width="0.8" />
<line x1="578.42" y1="163.5" x2="578.42" y2="164.9" stroke="#222" stroke-width="0.8" />
<line x1="608.66" y1="163.5" x2="608.66" y2="164.9" stroke="#222" stroke-width="0.8" />
<line x1="638.9" y1="163.5" x2="638.9" y2="164.9" stroke="#222" stroke-width="0.8" />
<line x1="669.14" y1="163.5" x2="669.14" y2="164.9" stroke="#222" stroke-width="0.8" />
<line x1="699.38" y1="163.5" x2="699.38" y2="164.9" stroke="#222" stroke-width="0.8" />
<text x="563.3" y="173.39" font-size="8.2" fill="#222" stroke="#222" stroke-width="0.22" text-anchor="middle" textLength="3.75" lengthAdjust="spacingAndGlyphs">0</text>
<text x="593.54" y="173.39" font-size="8.2" fill="#222" stroke="#222" stroke-width="0.22" text-anchor="middle" textLength="7.7" lengthAdjust="spacingAndGlyphs">20</text>
<text x="623.78" y="173.39" font-size="8.2" fill="#222" stroke="#222" stroke-width="0.22" text-anchor="middle" textLength="7.7" lengthAdjust="spacingAndGlyphs">40</text>
<text x="654.02" y="173.39" font-size="8.2" fill="#222" stroke="#222" stroke-width="0.22" text-anchor="middle" textLength="7.7" lengthAdjust="spacingAndGlyphs">60</text>
<text x="684.26" y="173.39" font-size="8.2" fill="#222" stroke="#222" stroke-width="0.22" text-anchor="middle" textLength="7.7" lengthAdjust="spacingAndGlyphs">80</text>
<text x="714.5" y="173.39" font-size="8.2" fill="#222" stroke="#222" stroke-width="0.22" text-anchor="middle" textLength="11.65" lengthAdjust="spacingAndGlyphs">100</text>
<text x="639" y="187.5" font-size="8.5" fill="#111" text-anchor="middle" font-weight="bold" font-style="normal" textLength="110.6" lengthAdjust="spacingAndGlyphs" >Water fraction in THF (vol%)</text>
<text transform="translate(540.7,87.8) rotate(-90)" font-size="8.6" font-weight="bold" font-style="italic" fill="#d8343c" text-anchor="middle">I/I<tspan font-size="5.6" dy="2.4">0</tspan></text>
<text transform="translate(745.2,94) rotate(-90)" font-size="8.6" font-weight="bold" fill="#3030ff" text-anchor="middle" textLength="33" lengthAdjust="spacingAndGlyphs"><tspan>λ</tspan><tspan font-size="5.4" dy="2.2">em</tspan><tspan dy="-2.2"> (nm)</tspan></text>
<line x1="639.9" y1="71.3" x2="659" y2="71.3" stroke="#d42a2a" stroke-width="1.0" />
<circle cx="649.4" cy="71.3" r="2.05" fill="#d01a22"/>
<circle cx="648.9" cy="70.85" r="0.55" fill="#f6c4c4"/>
<line x1="639.9" y1="83.8" x2="659" y2="83.8" stroke="#5c5cff" stroke-width="1.2" />
<rect x="647.45" y="81.85" width="3.9" height="3.9" fill="#1a1aff"/>
<text x="661.3" y="74" font-size="7.6" font-style="italic" fill="#111">I/I<tspan font-size="5.2" font-style="normal" dy="2.6">0</tspan></text>
<text x="661" y="86.6" font-size="7.8" font-style="italic" fill="#111">λ<tspan font-size="5" font-style="normal" dy="2.4">em</tspan></text>
<clipPath id="c344_215"><rect x="344.5" y="215.5" width="149.3" height="149"/></clipPath><g clip-path="url(#c344_215)">
<polyline points="433.96,284.44 448.92,287.12 463.88,313.94 478.84,328.84 486.32,352.68 492.3,358.94" fill="none" stroke="#2b2bff" stroke-width="0.95" stroke-linejoin="round"/>
<polyline points="344.2,363.3 359.16,363.3 374.12,363.3 389.08,363.3 404.04,363.3 419,363.3 433.96,363.3 448.92,363.3 463.88,361.99 478.84,352.3 486.32,301.4 492.3,221.82" fill="none" stroke="#d42a2a" stroke-width="0.9" stroke-linejoin="round"/>
<rect x="432.11" y="282.59" width="3.7" height="3.7" fill="#1a1aff"/>
<rect x="447.07" y="285.27" width="3.7" height="3.7" fill="#1a1aff"/>
<rect x="462.03" y="312.09" width="3.7" height="3.7" fill="#1a1aff"/>
<rect x="476.99" y="326.99" width="3.7" height="3.7" fill="#1a1aff"/>
<rect x="484.47" y="350.83" width="3.7" height="3.7" fill="#1a1aff"/>
<rect x="490.45" y="357.09" width="3.7" height="3.7" fill="#1a1aff"/>
<circle cx="344.2" cy="363.3" r="1.95" fill="#d01a22"/>
<circle cx="343.7" cy="362.85" r="0.55" fill="#f6c4c4"/>
<circle cx="359.16" cy="363.3" r="1.95" fill="#d01a22"/>
<circle cx="358.66" cy="362.85" r="0.55" fill="#f6c4c4"/>
<circle cx="374.12" cy="363.3" r="1.95" fill="#d01a22"/>
<circle cx="373.62" cy="362.85" r="0.55" fill="#f6c4c4"/>
<circle cx="389.08" cy="363.3" r="1.95" fill="#d01a22"/>
<circle cx="388.58" cy="362.85" r="0.55" fill="#f6c4c4"/>
<circle cx="404.04" cy="363.3" r="1.95" fill="#d01a22"/>
<circle cx="403.54" cy="362.85" r="0.55" fill="#f6c4c4"/>
<circle cx="419" cy="363.3" r="1.95" fill="#d01a22"/>
<circle cx="418.5" cy="362.85" r="0.55" fill="#f6c4c4"/>
<circle cx="433.96" cy="363.3" r="1.95" fill="#d01a22"/>
<circle cx="433.46" cy="362.85" r="0.55" fill="#f6c4c4"/>
<circle cx="448.92" cy="363.3" r="1.95" fill="#d01a22"/>
<circle cx="448.42" cy="362.85" r="0.55" fill="#f6c4c4"/>
<circle cx="463.88" cy="361.99" r="1.95" fill="#d01a22"/>
<circle cx="463.38" cy="361.54" r="0.55" fill="#f6c4c4"/>
<circle cx="478.84" cy="352.3" r="1.95" fill="#d01a22"/>
<circle cx="478.34" cy="351.85" r="0.55" fill="#f6c4c4"/>
<circle cx="486.32" cy="301.4" r="1.95" fill="#d01a22"/>
<circle cx="485.82" cy="300.95" r="0.55" fill="#f6c4c4"/>
<circle cx="492.3" cy="221.82" r="1.95" fill="#d01a22"/>
<circle cx="491.8" cy="221.37" r="0.55" fill="#f6c4c4"/>
</g>
<line x1="344.5" y1="215.5" x2="493.8" y2="215.5" stroke="#222" stroke-width="1.0" />
<line x1="344.5" y1="364.5" x2="493.8" y2="364.5" stroke="#222" stroke-width="1.0" />
<line x1="344.5" y1="215" x2="344.5" y2="365" stroke="#d8343c" stroke-width="1.0" />
<line x1="493.8" y1="215" x2="493.8" y2="365" stroke="#3030ff" stroke-width="1.0" />
<line x1="344.5" y1="363.3" x2="342" y2="363.3" stroke="#d8343c" stroke-width="0.8" />
<line x1="344.5" y1="330.55" x2="342" y2="330.55" stroke="#d8343c" stroke-width="0.8" />
<line x1="344.5" y1="297.8" x2="342" y2="297.8" stroke="#d8343c" stroke-width="0.8" />
<line x1="344.5" y1="265.05" x2="342" y2="265.05" stroke="#d8343c" stroke-width="0.8" />
<line x1="344.5" y1="232.3" x2="342" y2="232.3" stroke="#d8343c" stroke-width="0.8" />
<line x1="344.5" y1="346.93" x2="343.1" y2="346.93" stroke="#d8343c" stroke-width="0.8" />
<line x1="344.5" y1="314.18" x2="343.1" y2="314.18" stroke="#d8343c" stroke-width="0.8" />
<line x1="344.5" y1="281.43" x2="343.1" y2="281.43" stroke="#d8343c" stroke-width="0.8" />
<line x1="344.5" y1="248.68" x2="343.1" y2="248.68" stroke="#d8343c" stroke-width="0.8" />
<text x="339.8" y="366.24" font-size="8.2" fill="#d8343c" stroke="#d8343c" stroke-width="0.22" text-anchor="end" textLength="3.75" lengthAdjust="spacingAndGlyphs">0</text>
<text x="339.8" y="333.49" font-size="8.2" fill="#d8343c" stroke="#d8343c" stroke-width="0.22" text-anchor="end" textLength="19.55" lengthAdjust="spacingAndGlyphs">10000</text>
<text x="339.8" y="300.74" font-size="8.2" fill="#d8343c" stroke="#d8343c" stroke-width="0.22" text-anchor="end" textLength="19.55" lengthAdjust="spacingAndGlyphs">20000</text>
<text x="339.8" y="267.99" font-size="8.2" fill="#d8343c" stroke="#d8343c" stroke-width="0.22" text-anchor="end" textLength="19.55" lengthAdjust="spacingAndGlyphs">30000</text>
<text x="339.8" y="235.24" font-size="8.2" fill="#d8343c" stroke="#d8343c" stroke-width="0.22" text-anchor="end" textLength="19.55" lengthAdjust="spacingAndGlyphs">40000</text>
<line x1="493.8" y1="364.6" x2="496.3" y2="364.6" stroke="#3030ff" stroke-width="0.8" />
<line x1="493.8" y1="334.8" x2="496.3" y2="334.8" stroke="#3030ff" stroke-width="0.8" />
<line x1="493.8" y1="305" x2="496.3" y2="305" stroke="#3030ff" stroke-width="0.8" />
<line x1="493.8" y1="275.2" x2="496.3" y2="275.2" stroke="#3030ff" stroke-width="0.8" />
<line x1="493.8" y1="245.4" x2="496.3" y2="245.4" stroke="#3030ff" stroke-width="0.8" />
<line x1="493.8" y1="215.6" x2="496.3" y2="215.6" stroke="#3030ff" stroke-width="0.8" />
<line x1="493.8" y1="349.7" x2="495.2" y2="349.7" stroke="#3030ff" stroke-width="0.8" />
<line x1="493.8" y1="319.9" x2="495.2" y2="319.9" stroke="#3030ff" stroke-width="0.8" />
<line x1="493.8" y1="290.1" x2="495.2" y2="290.1" stroke="#3030ff" stroke-width="0.8" />
<line x1="493.8" y1="260.3" x2="495.2" y2="260.3" stroke="#3030ff" stroke-width="0.8" />
<line x1="493.8" y1="230.5" x2="495.2" y2="230.5" stroke="#3030ff" stroke-width="0.8" />
<text x="499" y="370.04" font-size="8.2" fill="#3030ff" stroke="#3030ff" stroke-width="0.22" text-anchor="start" textLength="11.65" lengthAdjust="spacingAndGlyphs">640</text>
<text x="499" y="340.24" font-size="8.2" fill="#3030ff" stroke="#3030ff" stroke-width="0.22" text-anchor="start" textLength="11.65" lengthAdjust="spacingAndGlyphs">660</text>
<text x="499" y="310.44" font-size="8.2" fill="#3030ff" stroke="#3030ff" stroke-width="0.22" text-anchor="start" textLength="11.65" lengthAdjust="spacingAndGlyphs">680</text>
<text x="499" y="280.64" font-size="8.2" fill="#3030ff" stroke="#3030ff" stroke-width="0.22" text-anchor="start" textLength="11.65" lengthAdjust="spacingAndGlyphs">700</text>
<text x="499" y="250.84" font-size="8.2" fill="#3030ff" stroke="#3030ff" stroke-width="0.22" text-anchor="start" textLength="11.65" lengthAdjust="spacingAndGlyphs">720</text>
<text x="499" y="221.04" font-size="8.2" fill="#3030ff" stroke="#3030ff" stroke-width="0.22" text-anchor="start" textLength="11.65" lengthAdjust="spacingAndGlyphs">740</text>
<line x1="344.2" y1="364.5" x2="344.2" y2="367" stroke="#222" stroke-width="0.8" />
<line x1="374.12" y1="364.5" x2="374.12" y2="367" stroke="#222" stroke-width="0.8" />
<line x1="404.04" y1="364.5" x2="404.04" y2="367" stroke="#222" stroke-width="0.8" />
<line x1="433.96" y1="364.5" x2="433.96" y2="367" stroke="#222" stroke-width="0.8" />
<line x1="463.88" y1="364.5" x2="463.88" y2="367" stroke="#222" stroke-width="0.8" />
<line x1="493.8" y1="364.5" x2="493.8" y2="367" stroke="#222" stroke-width="0.8" />
<line x1="359.16" y1="364.5" x2="359.16" y2="365.9" stroke="#222" stroke-width="0.8" />
<line x1="389.08" y1="364.5" x2="389.08" y2="365.9" stroke="#222" stroke-width="0.8" />
<line x1="419" y1="364.5" x2="419" y2="365.9" stroke="#222" stroke-width="0.8" />
<line x1="448.92" y1="364.5" x2="448.92" y2="365.9" stroke="#222" stroke-width="0.8" />
<line x1="478.84" y1="364.5" x2="478.84" y2="365.9" stroke="#222" stroke-width="0.8" />
<text x="344.2" y="374.94" font-size="8.2" fill="#222" stroke="#222" stroke-width="0.22" text-anchor="middle" textLength="3.75" lengthAdjust="spacingAndGlyphs">0</text>
<text x="374.12" y="374.94" font-size="8.2" fill="#222" stroke="#222" stroke-width="0.22" text-anchor="middle" textLength="7.7" lengthAdjust="spacingAndGlyphs">20</text>
<text x="404.04" y="374.94" font-size="8.2" fill="#222" stroke="#222" stroke-width="0.22" text-anchor="middle" textLength="7.7" lengthAdjust="spacingAndGlyphs">40</text>
<text x="433.96" y="374.94" font-size="8.2" fill="#222" stroke="#222" stroke-width="0.22" text-anchor="middle" textLength="7.7" lengthAdjust="spacingAndGlyphs">60</text>
<text x="463.88" y="374.94" font-size="8.2" fill="#222" stroke="#222" stroke-width="0.22" text-anchor="middle" textLength="7.7" lengthAdjust="spacingAndGlyphs">80</text>
<text x="493.8" y="374.94" font-size="8.2" fill="#222" stroke="#222" stroke-width="0.22" text-anchor="middle" textLength="11.65" lengthAdjust="spacingAndGlyphs">100</text>
<text x="419.25" y="388.5" font-size="8.5" fill="#111" text-anchor="middle" font-weight="bold" font-style="normal" textLength="115.3" lengthAdjust="spacingAndGlyphs" >Hexane fraction in THF (vol%)</text>
<text transform="translate(313.3,290) rotate(-90)" font-size="8.6" font-weight="bold" font-style="italic" fill="#d8343c" text-anchor="middle">I/I<tspan font-size="5.6" dy="2.4">0</tspan></text>
<text transform="translate(522.7,296.3) rotate(-90)" font-size="8.6" font-weight="bold" fill="#3030ff" text-anchor="middle" textLength="33" lengthAdjust="spacingAndGlyphs"><tspan>λ</tspan><tspan font-size="5.4" dy="2.2">em</tspan><tspan dy="-2.2"> (nm)</tspan></text>
<line x1="362.2" y1="245.4" x2="381.5" y2="245.4" stroke="#d42a2a" stroke-width="1.0" />
<circle cx="371.9" cy="245.4" r="2.05" fill="#d01a22"/>
<circle cx="371.4" cy="244.95" r="0.55" fill="#f6c4c4"/>
<line x1="362.2" y1="257.9" x2="381.5" y2="257.9" stroke="#5c5cff" stroke-width="1.2" />
<rect x="369.95" y="255.95" width="3.9" height="3.9" fill="#1a1aff"/>
<text x="383.6" y="248.1" font-size="7.6" font-style="italic" fill="#111">I/I<tspan font-size="5.2" font-style="normal" dy="2.6">0</tspan></text>
<text x="383.3" y="260.7" font-size="7.8" font-style="italic" fill="#111">λ<tspan font-size="5" font-style="normal" dy="2.4">em</tspan></text>
<clipPath id="c563_215"><rect x="563.5" y="215.5" width="151.6" height="151"/></clipPath><g clip-path="url(#c563_215)">
<polyline points="654.38,299.9 669.56,275.3 684.74,253.85 699.92,251 707.51,245.3 713.58,239" fill="none" stroke="#2b2bff" stroke-width="0.95" stroke-linejoin="round"/>
<polyline points="563.3,364.51 578.48,363.8 593.66,364.69 608.84,364.69 624.02,364.51 639.2,364.69 654.38,355.67 669.56,351.09 684.74,327.57 699.92,289.75 707.51,233.02 713.58,283.92" fill="none" stroke="#d42a2a" stroke-width="0.9" stroke-linejoin="round"/>
<rect x="652.53" y="298.05" width="3.7" height="3.7" fill="#1a1aff"/>
<rect x="667.71" y="273.45" width="3.7" height="3.7" fill="#1a1aff"/>
<rect x="682.89" y="252" width="3.7" height="3.7" fill="#1a1aff"/>
<rect x="698.07" y="249.15" width="3.7" height="3.7" fill="#1a1aff"/>
<rect x="705.66" y="243.45" width="3.7" height="3.7" fill="#1a1aff"/>
<rect x="711.73" y="237.15" width="3.7" height="3.7" fill="#1a1aff"/>
<circle cx="563.3" cy="364.51" r="1.95" fill="#d01a22"/>
<circle cx="562.8" cy="364.06" r="0.55" fill="#f6c4c4"/>
<circle cx="578.48" cy="363.8" r="1.95" fill="#d01a22"/>
<circle cx="577.98" cy="363.35" r="0.55" fill="#f6c4c4"/>
<circle cx="593.66" cy="364.69" r="1.95" fill="#d01a22"/>
<circle cx="593.16" cy="364.24" r="0.55" fill="#f6c4c4"/>
<circle cx="608.84" cy="364.69" r="1.95" fill="#d01a22"/>
<circle cx="608.34" cy="364.24" r="0.55" fill="#f6c4c4"/>
<circle cx="624.02" cy="364.51" r="1.95" fill="#d01a22"/>
<circle cx="623.52" cy="364.06" r="0.55" fill="#f6c4c4"/>
<circle cx="639.2" cy="364.69" r="1.95" fill="#d01a22"/>
<circle cx="638.7" cy="364.24" r="0.55" fill="#f6c4c4"/>
<circle cx="654.38" cy="355.67" r="1.95" fill="#d01a22"/>
<circle cx="653.88" cy="355.22" r="0.55" fill="#f6c4c4"/>
<circle cx="669.56" cy="351.09" r="1.95" fill="#d01a22"/>
<circle cx="669.06" cy="350.64" r="0.55" fill="#f6c4c4"/>
<circle cx="684.74" cy="327.57" r="1.95" fill="#d01a22"/>
<circle cx="684.24" cy="327.12" r="0.55" fill="#f6c4c4"/>
<circle cx="699.92" cy="289.75" r="1.95" fill="#d01a22"/>
<circle cx="699.42" cy="289.3" r="0.55" fill="#f6c4c4"/>
<circle cx="707.51" cy="233.02" r="1.95" fill="#d01a22"/>
<circle cx="707.01" cy="232.57" r="0.55" fill="#f6c4c4"/>
<circle cx="713.58" cy="283.92" r="1.95" fill="#d01a22"/>
<circle cx="713.08" cy="283.47" r="0.55" fill="#f6c4c4"/>
</g>
<line x1="563.5" y1="215.5" x2="715.1" y2="215.5" stroke="#8a8a8a" stroke-width="1.0" />
<line x1="563.5" y1="366.5" x2="715.1" y2="366.5" stroke="#222" stroke-width="1.0" />
<line x1="563.5" y1="215" x2="563.5" y2="367" stroke="#d8343c" stroke-width="1.0" />
<line x1="715.1" y1="215" x2="715.1" y2="367" stroke="#3030ff" stroke-width="1.0" />
<line x1="563.5" y1="365.9" x2="561" y2="365.9" stroke="#d8343c" stroke-width="0.8" />
<line x1="563.5" y1="330.38" x2="561" y2="330.38" stroke="#d8343c" stroke-width="0.8" />
<line x1="563.5" y1="294.86" x2="561" y2="294.86" stroke="#d8343c" stroke-width="0.8" />
<line x1="563.5" y1="259.34" x2="561" y2="259.34" stroke="#d8343c" stroke-width="0.8" />
<line x1="563.5" y1="223.82" x2="561" y2="223.82" stroke="#d8343c" stroke-width="0.8" />
<line x1="563.5" y1="348.14" x2="562.1" y2="348.14" stroke="#d8343c" stroke-width="0.8" />
<line x1="563.5" y1="312.62" x2="562.1" y2="312.62" stroke="#d8343c" stroke-width="0.8" />
<line x1="563.5" y1="277.1" x2="562.1" y2="277.1" stroke="#d8343c" stroke-width="0.8" />
<line x1="563.5" y1="241.58" x2="562.1" y2="241.58" stroke="#d8343c" stroke-width="0.8" />
<text x="558.7" y="368.84" font-size="8.2" fill="#d8343c" stroke="#d8343c" stroke-width="0.22" text-anchor="end" textLength="3.75" lengthAdjust="spacingAndGlyphs">0</text>
<text x="558.7" y="333.32" font-size="8.2" fill="#d8343c" stroke="#d8343c" stroke-width="0.22" text-anchor="end" textLength="7.7" lengthAdjust="spacingAndGlyphs">20</text>
<text x="558.7" y="297.8" font-size="8.2" fill="#d8343c" stroke="#d8343c" stroke-width="0.22" text-anchor="end" textLength="7.7" lengthAdjust="spacingAndGlyphs">40</text>
<text x="558.7" y="262.28" font-size="8.2" fill="#d8343c" stroke="#d8343c" stroke-width="0.22" text-anchor="end" textLength="7.7" lengthAdjust="spacingAndGlyphs">60</text>
<text x="558.7" y="226.76" font-size="8.2" fill="#d8343c" stroke="#d8343c" stroke-width="0.22" text-anchor="end" textLength="7.7" lengthAdjust="spacingAndGlyphs">80</text>
<line x1="715.1" y1="365.3" x2="717.6" y2="365.3" stroke="#3030ff" stroke-width="0.8" />
<line x1="715.1" y1="335.3" x2="717.6" y2="335.3" stroke="#3030ff" stroke-width="0.8" />
<line x1="715.1" y1="305.3" x2="717.6" y2="305.3" stroke="#3030ff" stroke-width="0.8" />
<line x1="715.1" y1="275.3" x2="717.6" y2="275.3" stroke="#3030ff" stroke-width="0.8" />
<line x1="715.1" y1="245.3" x2="717.6" y2="245.3" stroke="#3030ff" stroke-width="0.8" />
<line x1="715.1" y1="215.3" x2="717.6" y2="215.3" stroke="#3030ff" stroke-width="0.8" />
<line x1="715.1" y1="350.3" x2="716.5" y2="350.3" stroke="#3030ff" stroke-width="0.8" />
<line x1="715.1" y1="320.3" x2="716.5" y2="320.3" stroke="#3030ff" stroke-width="0.8" />
<line x1="715.1" y1="290.3" x2="716.5" y2="290.3" stroke="#3030ff" stroke-width="0.8" />
<line x1="715.1" y1="260.3" x2="716.5" y2="260.3" stroke="#3030ff" stroke-width="0.8" />
<line x1="715.1" y1="230.3" x2="716.5" y2="230.3" stroke="#3030ff" stroke-width="0.8" />
<text x="719.2" y="370.74" font-size="8.2" fill="#3030ff" stroke="#3030ff" stroke-width="0.22" text-anchor="start" textLength="11.65" lengthAdjust="spacingAndGlyphs">640</text>
<text x="719.2" y="340.74" font-size="8.2" fill="#3030ff" stroke="#3030ff" stroke-width="0.22" text-anchor="start" textLength="11.65" lengthAdjust="spacingAndGlyphs">660</text>
<text x="719.2" y="310.74" font-size="8.2" fill="#3030ff" stroke="#3030ff" stroke-width="0.22" text-anchor="start" textLength="11.65" lengthAdjust="spacingAndGlyphs">680</text>
<text x="719.2" y="280.74" font-size="8.2" fill="#3030ff" stroke="#3030ff" stroke-width="0.22" text-anchor="start" textLength="11.65" lengthAdjust="spacingAndGlyphs">700</text>
<text x="719.2" y="250.74" font-size="8.2" fill="#3030ff" stroke="#3030ff" stroke-width="0.22" text-anchor="start" textLength="11.65" lengthAdjust="spacingAndGlyphs">720</text>
<text x="719.2" y="220.74" font-size="8.2" fill="#3030ff" stroke="#3030ff" stroke-width="0.22" text-anchor="start" textLength="11.65" lengthAdjust="spacingAndGlyphs">740</text>
<line x1="563.3" y1="366.5" x2="563.3" y2="369" stroke="#222" stroke-width="0.8" />
<line x1="593.66" y1="366.5" x2="593.66" y2="369" stroke="#222" stroke-width="0.8" />
<line x1="624.02" y1="366.5" x2="624.02" y2="369" stroke="#222" stroke-width="0.8" />
<line x1="654.38" y1="366.5" x2="654.38" y2="369" stroke="#222" stroke-width="0.8" />
<line x1="684.74" y1="366.5" x2="684.74" y2="369" stroke="#222" stroke-width="0.8" />
<line x1="715.1" y1="366.5" x2="715.1" y2="369" stroke="#222" stroke-width="0.8" />
<line x1="578.48" y1="366.5" x2="578.48" y2="367.9" stroke="#222" stroke-width="0.8" />
<line x1="608.84" y1="366.5" x2="608.84" y2="367.9" stroke="#222" stroke-width="0.8" />
<line x1="639.2" y1="366.5" x2="639.2" y2="367.9" stroke="#222" stroke-width="0.8" />
<line x1="669.56" y1="366.5" x2="669.56" y2="367.9" stroke="#222" stroke-width="0.8" />
<line x1="699.92" y1="366.5" x2="699.92" y2="367.9" stroke="#222" stroke-width="0.8" />
<text x="563.3" y="376.79" font-size="8.2" fill="#222" stroke="#222" stroke-width="0.22" text-anchor="middle" textLength="3.75" lengthAdjust="spacingAndGlyphs">0</text>
<text x="593.66" y="376.79" font-size="8.2" fill="#222" stroke="#222" stroke-width="0.22" text-anchor="middle" textLength="7.7" lengthAdjust="spacingAndGlyphs">20</text>
<text x="624.02" y="376.79" font-size="8.2" fill="#222" stroke="#222" stroke-width="0.22" text-anchor="middle" textLength="7.7" lengthAdjust="spacingAndGlyphs">40</text>
<text x="654.38" y="376.79" font-size="8.2" fill="#222" stroke="#222" stroke-width="0.22" text-anchor="middle" textLength="7.7" lengthAdjust="spacingAndGlyphs">60</text>
<text x="684.74" y="376.79" font-size="8.2" fill="#222" stroke="#222" stroke-width="0.22" text-anchor="middle" textLength="7.7" lengthAdjust="spacingAndGlyphs">80</text>
<text x="715.1" y="376.79" font-size="8.2" fill="#222" stroke="#222" stroke-width="0.22" text-anchor="middle" textLength="11.65" lengthAdjust="spacingAndGlyphs">100</text>
<text x="638.75" y="390.6" font-size="8.5" fill="#111" text-anchor="middle" font-weight="bold" font-style="normal" textLength="111.1" lengthAdjust="spacingAndGlyphs" >Water fraction in THF (vol%)</text>
<text transform="translate(542.3,290.6) rotate(-90)" font-size="8.6" font-weight="bold" font-style="italic" fill="#d8343c" text-anchor="middle">I/I<tspan font-size="5.6" dy="2.4">0</tspan></text>
<text transform="translate(743.2,296.6) rotate(-90)" font-size="8.6" font-weight="bold" fill="#3030ff" text-anchor="middle" textLength="33" lengthAdjust="spacingAndGlyphs"><tspan>λ</tspan><tspan font-size="5.4" dy="2.2">em</tspan><tspan dy="-2.2"> (nm)</tspan></text>
<line x1="581.3" y1="245.3" x2="600.6" y2="245.3" stroke="#d42a2a" stroke-width="1.0" />
<circle cx="591" cy="245.3" r="2.05" fill="#d01a22"/>
<circle cx="590.5" cy="244.85" r="0.55" fill="#f6c4c4"/>
<line x1="581.3" y1="257.9" x2="600.6" y2="257.9" stroke="#5c5cff" stroke-width="1.2" />
<rect x="589.05" y="255.95" width="3.9" height="3.9" fill="#1a1aff"/>
<text x="602.7" y="248" font-size="7.6" font-style="italic" fill="#111">I/I<tspan font-size="5.2" font-style="normal" dy="2.6">0</tspan></text>
<text x="602.4" y="260.7" font-size="7.8" font-style="italic" fill="#111">λ<tspan font-size="5" font-style="normal" dy="2.4">em</tspan></text>
<line x1="122.9" y1="363.5" x2="274.5" y2="363.5" stroke="#79b15c" stroke-width="1.0" />
<path d="M155.37,363.4 L155.97,363.4 L156.57,363.39 L157.17,363.38 L157.77,363.36 L158.37,363.35 L158.97,363.34 L159.57,363.33 L160.17,363.31 L160.77,363.3 L161.37,363.28 L161.97,363.26 L162.57,363.24 L163.17,363.22 L163.77,363.2 L164.37,363.18 L164.97,363.16 L165.57,363.14 L166.17,363.12 L166.77,363.09 L167.37,363.07 L167.97,363.04 L168.57,363.01 L169.17,362.98 L169.77,362.96 L170.37,362.93 L170.97,362.9 L171.57,362.87 L172.17,362.84 L172.77,362.81 L173.37,362.78 L173.97,362.75 L174.58,362.71 L175.18,362.68 L175.78,362.65 L176.38,362.62 L176.98,362.59 L177.58,362.56 L178.18,362.54 L178.78,362.51 L179.38,362.48 L179.98,362.45 L180.58,362.43 L181.18,362.41 L181.78,362.38 L182.38,362.36 L182.98,362.34 L183.58,362.33 L184.18,362.31 L184.78,362.3 L185.38,362.28 L185.98,362.27 L186.58,362.27 L187.18,362.26 L187.78,362.26 L188.38,362.25 L188.98,362.25 L189.58,362.26 L190.18,362.26 L190.78,362.27 L191.38,362.27 L191.98,362.28 L192.58,362.3 L193.18,362.31 L193.78,362.33 L194.38,362.34 L194.98,362.36 L195.58,362.38 L196.18,362.41 L196.78,362.43 L197.38,362.45 L197.98,362.48 L198.58,362.51 L199.18,362.53 L199.79,362.56 L200.39,362.59 L200.99,362.62 L201.59,362.65 L202.19,362.68 L202.79,362.71 L203.39,362.74 L203.99,362.77 L204.59,362.81 L205.19,362.84 L205.79,362.87 L206.39,362.9 L206.99,362.93 L207.59,362.95 L208.19,362.98 L208.79,363.01 L209.39,363.04 L209.99,363.06 L210.59,363.09 L211.19,363.11 L211.79,363.14 L212.39,363.16 L212.99,363.18 L213.59,363.2 L214.19,363.22 L214.79,363.24 L215.39,363.26 L215.99,363.28 L216.59,363.29 L217.19,363.31 L217.79,363.32 L218.39,363.34 L218.99,363.35 L219.59,363.36 L220.19,363.37 L220.79,363.39 L221.39,363.4 L221.99,363.4 L222.59,363.41 L223.19,363.42 L223.79,363.43 L224.4,363.43 L225,363.44 L225.6,363.45 L226.2,363.45 L226.8,363.46" fill="none" stroke="#c83a30" stroke-width="0.9" stroke-linejoin="round"/>
<path d="M123.24,363.46 L124.08,363.06 L124.9,362.64 L125.68,362.2 L126.44,361.74 L127.18,361.26 L127.88,360.76 L128.56,360.25 L129.21,359.71 L129.84,359.16 L130.45,358.6 L131.03,358.02 L131.58,357.42 L132.12,356.81 L132.63,356.18 L133.12,355.54 L133.59,354.89 L134.04,354.22 L134.47,353.54 L134.88,352.85 L135.28,352.14 L135.65,351.43 L136.01,350.7 L136.35,349.96 L136.68,349.21 L136.99,348.45 L137.28,347.69 L137.56,346.91 L137.83,346.12 L138.08,345.33 L138.32,344.53 L138.55,343.72 L138.77,342.91 L138.97,342.09 L139.17,341.26 L139.36,340.43 L139.54,339.59 L139.71,338.75 L139.87,337.9 L140.02,337.05 L140.17,336.2 L140.32,335.34 L140.45,334.49 L140.58,333.63 L140.71,332.76 L140.84,331.9 L140.96,331.04 L141.08,330.18 L141.19,329.31 L141.31,328.45 L141.42,327.59 L141.54,326.73 L141.65,325.87 L141.77,325.01 L141.88,324.15 L141.99,323.3 L142.1,322.44 L142.21,321.59 L142.32,320.73 L142.43,319.88 L142.54,319.03 L142.65,318.18 L142.76,317.33 L142.86,316.48 L142.97,315.63 L143.08,314.78 L143.18,313.94 L143.29,313.09 L143.39,312.25 L143.5,311.4 L143.61,310.56 L143.71,309.72 L143.81,308.87 L143.92,308.03 L144.02,307.19 L144.13,306.35 L144.23,305.51 L144.34,304.67 L144.44,303.84 L144.54,303 L144.65,302.16 L144.75,301.32 L144.85,300.49 L144.96,299.65 L145.06,298.82 L145.17,297.98 L145.27,297.15 L145.37,296.32 L145.48,295.48 L145.58,294.65 L145.69,293.82 L145.79,292.99 L145.9,292.15 L146,291.32 L146.11,290.49 L146.21,289.66 L146.32,288.83 L146.43,288 L146.53,287.17 L146.64,286.34 L146.75,285.51 L146.86,284.68 L146.97,283.85 L147.08,283.03 L147.19,282.2 L147.3,281.37 L147.41,280.54 L147.52,279.71 L147.63,278.89 L147.75,278.06 L147.86,277.23 L147.97,276.4 L148.09,275.57 L148.21,274.75 L148.32,273.92 L148.44,273.09 L148.56,272.26 L148.68,271.43 L148.8,270.61 L148.92,269.78 L149.04,268.95 L149.16,268.12 L149.29,267.29 L149.41,266.47 L149.54,265.64 L149.66,264.81 L149.79,263.98 L149.92,263.15 L150.05,262.32 L150.18,261.49 L150.32,260.65 L150.45,259.82 L150.59,258.99 L150.73,258.15 L150.87,257.31 L151.01,256.47 L151.15,255.63 L151.3,254.79 L151.45,253.94 L151.6,253.09 L151.75,252.24 L151.91,251.39 L152.07,250.53 L152.23,249.67 L152.39,248.8 L152.56,247.94 L152.73,247.07 L152.9,246.19 L153.08,245.32 L153.25,244.43 L153.44,243.55 L153.62,242.66 L153.81,241.77 L154.02,240.88 L154.25,240.02 L154.5,239.19 L154.8,238.4 L155.13,237.65 L155.52,236.97 L155.97,236.36 L156.48,235.82 L157.06,235.37 L157.73,235.03 L158.48,234.79 L159.27,234.66 L160.1,234.64 L160.91,234.72 L161.69,234.92 L162.41,235.22 L163.07,235.63 L163.67,236.12 L164.22,236.69 L164.72,237.33 L165.19,238.02 L165.62,238.76 L166.02,239.53 L166.41,240.32 L166.78,241.13 L167.14,241.93 L167.49,242.74 L167.83,243.55 L168.16,244.36 L168.48,245.17 L168.8,245.99 L169.1,246.8 L169.4,247.61 L169.69,248.43 L169.98,249.25 L170.25,250.06 L170.52,250.88 L170.78,251.7 L171.04,252.52 L171.29,253.34 L171.53,254.16 L171.77,254.98 L172,255.8 L172.22,256.63 L172.45,257.45 L172.66,258.27 L172.87,259.1 L173.08,259.92 L173.28,260.75 L173.48,261.57 L173.67,262.4 L173.86,263.23 L174.05,264.05 L174.23,264.88 L174.41,265.71 L174.59,266.53 L174.76,267.36 L174.94,268.19 L175.11,269.01 L175.28,269.84 L175.44,270.67 L175.61,271.5 L175.77,272.33 L175.94,273.15 L176.1,273.98 L176.26,274.81 L176.42,275.63 L176.59,276.46 L176.75,277.29 L176.91,278.11 L177.07,278.94 L177.24,279.76 L177.4,280.59 L177.57,281.41 L177.74,282.24 L177.91,283.06 L178.08,283.88 L178.25,284.71 L178.43,285.53 L178.6,286.35 L178.79,287.17 L178.97,287.99 L179.16,288.81 L179.35,289.63 L179.54,290.45 L179.74,291.27 L179.93,292.08 L180.14,292.9 L180.34,293.71 L180.55,294.53 L180.76,295.34 L180.97,296.15 L181.19,296.97 L181.41,297.78 L181.63,298.59 L181.86,299.4 L182.09,300.21 L182.32,301.02 L182.55,301.83 L182.79,302.63 L183.03,303.44 L183.28,304.24 L183.53,305.05 L183.78,305.85 L184.03,306.66 L184.29,307.46 L184.55,308.26 L184.82,309.06 L185.09,309.86 L185.36,310.66 L185.63,311.46 L185.91,312.25 L186.19,313.05 L186.48,313.85 L186.77,314.64 L187.06,315.43 L187.36,316.23 L187.66,317.02 L187.96,317.81 L188.27,318.6 L188.58,319.39 L188.89,320.18 L189.21,320.96 L189.53,321.75 L189.85,322.54 L190.18,323.32 L190.52,324.1 L190.85,324.89 L191.19,325.67 L191.54,326.45 L191.88,327.23 L192.24,328.01 L192.59,328.78 L192.95,329.56 L193.31,330.34 L193.68,331.11 L194.05,331.89 L194.43,332.66 L194.81,333.43 L195.2,334.19 L195.59,334.96 L195.99,335.72 L196.39,336.47 L196.8,337.22 L197.22,337.97 L197.64,338.71 L198.07,339.45 L198.51,340.18 L198.96,340.9 L199.42,341.62 L199.88,342.33 L200.36,343.03 L200.84,343.73 L201.34,344.42 L201.84,345.09 L202.35,345.76 L202.88,346.42 L203.41,347.07 L203.96,347.71 L204.52,348.34 L205.09,348.96 L205.68,349.56 L206.27,350.16 L206.88,350.74 L207.5,351.31 L208.13,351.86 L208.77,352.41 L209.42,352.94 L210.09,353.46 L210.76,353.96 L211.44,354.46 L212.13,354.94 L212.83,355.4 L213.54,355.85 L214.26,356.29 L214.98,356.71 L215.72,357.12 L216.46,357.52 L217.2,357.9 L217.96,358.27 L218.72,358.62 L219.48,358.95 L220.26,359.27 L221.03,359.58 L221.81,359.87 L222.6,360.14 L223.39,360.4 L224.19,360.65 L224.99,360.88 L225.79,361.1 L226.6,361.31 L227.42,361.5 L228.23,361.68 L229.05,361.85 L229.88,362.01 L230.7,362.15 L231.53,362.29 L232.37,362.42 L233.21,362.53 L234.04,362.64 L234.89,362.73 L235.73,362.82 L236.58,362.9 L237.43,362.97 L238.28,363.04 L239.13,363.09 L239.99,363.14 L240.84,363.19 L241.7,363.22 L242.56,363.25 L243.42,363.28 L244.29,363.3 L245.15,363.31 L246.01,363.32 L246.88,363.33 L247.74,363.33 L248.6,363.33 L249.47,363.33 L250.33,363.33 L251.2,363.32 L252.06,363.31 L252.93,363.3 L253.79,363.29 L254.65,363.27 L255.51,363.26 L256.38,363.25 L257.23,363.24 L258.09,363.23 L258.95,363.22 L259.8,363.21 L260.66,363.2 L261.51,363.2 L262.36,363.2 L263.21,363.2 L264.05,363.21 L264.89,363.21 L265.73,363.23 L266.57,363.25 L267.4,363.27 L268.23,363.3 L269.06,363.33 L269.88,363.37 L270.7,363.42 L271.52,363.47 L272.33,363.53 L273.14,363.6 L273.94,363.68" fill="none" stroke="#111" stroke-width="0.9" stroke-linejoin="round"/>
<line x1="122.9" y1="215.5" x2="274.5" y2="215.5" stroke="#555" stroke-width="1.0" />
<line x1="274.5" y1="215.5" x2="274.5" y2="366.2" stroke="#444" stroke-width="1.0" />
<line x1="122.4" y1="366.2" x2="274.5" y2="366.2" stroke="#4a4a4a" stroke-width="1.0" />
<line x1="122.9" y1="215.5" x2="122.9" y2="366.2" stroke="#8a8a8a" stroke-width="1.8" />
<line x1="122" y1="363.6" x2="119.8" y2="363.6" stroke="#444" stroke-width="0.8" />
<line x1="122" y1="333.92" x2="119.8" y2="333.92" stroke="#444" stroke-width="0.8" />
<line x1="122" y1="304.24" x2="119.8" y2="304.24" stroke="#444" stroke-width="0.8" />
<line x1="122" y1="274.56" x2="119.8" y2="274.56" stroke="#444" stroke-width="0.8" />
<line x1="122" y1="244.88" x2="119.8" y2="244.88" stroke="#444" stroke-width="0.8" />
<line x1="122" y1="215.2" x2="119.8" y2="215.2" stroke="#444" stroke-width="0.8" />
<line x1="122" y1="348.76" x2="120.8" y2="348.76" stroke="#444" stroke-width="0.8" />
<line x1="122" y1="319.08" x2="120.8" y2="319.08" stroke="#444" stroke-width="0.8" />
<line x1="122" y1="289.4" x2="120.8" y2="289.4" stroke="#444" stroke-width="0.8" />
<line x1="122" y1="259.72" x2="120.8" y2="259.72" stroke="#444" stroke-width="0.8" />
<line x1="122" y1="230.04" x2="120.8" y2="230.04" stroke="#444" stroke-width="0.8" />
<text x="118.6" y="366.54" font-size="8.2" fill="#222" stroke="#222" stroke-width="0.22" text-anchor="end" textLength="3.75" lengthAdjust="spacingAndGlyphs">0</text>
<text x="118.6" y="336.86" font-size="8.2" fill="#222" stroke="#222" stroke-width="0.22" text-anchor="end" textLength="7.7" lengthAdjust="spacingAndGlyphs">10</text>
<text x="118.6" y="307.18" font-size="8.2" fill="#222" stroke="#222" stroke-width="0.22" text-anchor="end" textLength="7.7" lengthAdjust="spacingAndGlyphs">20</text>
<text x="118.6" y="277.5" font-size="8.2" fill="#222" stroke="#222" stroke-width="0.22" text-anchor="end" textLength="7.7" lengthAdjust="spacingAndGlyphs">30</text>
<text x="118.6" y="247.82" font-size="8.2" fill="#222" stroke="#222" stroke-width="0.22" text-anchor="end" textLength="7.7" lengthAdjust="spacingAndGlyphs">40</text>
<text x="118.6" y="218.14" font-size="8.2" fill="#222" stroke="#222" stroke-width="0.22" text-anchor="end" textLength="7.7" lengthAdjust="spacingAndGlyphs">50</text>
<line x1="144.55" y1="366.2" x2="144.55" y2="368.6" stroke="#333" stroke-width="0.8" />
<line x1="187.84" y1="366.2" x2="187.84" y2="368.6" stroke="#333" stroke-width="0.8" />
<line x1="231.12" y1="366.2" x2="231.12" y2="368.6" stroke="#333" stroke-width="0.8" />
<line x1="274.42" y1="366.2" x2="274.42" y2="368.6" stroke="#333" stroke-width="0.8" />
<line x1="122.9" y1="366.2" x2="122.9" y2="367.6" stroke="#333" stroke-width="0.8" />
<line x1="166.19" y1="366.2" x2="166.19" y2="367.6" stroke="#333" stroke-width="0.8" />
<line x1="209.48" y1="366.2" x2="209.48" y2="367.6" stroke="#333" stroke-width="0.8" />
<line x1="252.77" y1="366.2" x2="252.77" y2="367.6" stroke="#333" stroke-width="0.8" />
<text x="144.55" y="376.94" font-size="8.2" fill="#222" stroke="#222" stroke-width="0.22" text-anchor="middle" textLength="11.65" lengthAdjust="spacingAndGlyphs">600</text>
<text x="187.84" y="376.94" font-size="8.2" fill="#222" stroke="#222" stroke-width="0.22" text-anchor="middle" textLength="11.65" lengthAdjust="spacingAndGlyphs">700</text>
<text x="231.12" y="376.94" font-size="8.2" fill="#222" stroke="#222" stroke-width="0.22" text-anchor="middle" textLength="11.65" lengthAdjust="spacingAndGlyphs">800</text>
<text x="274.42" y="376.94" font-size="8.2" fill="#222" stroke="#222" stroke-width="0.22" text-anchor="middle" textLength="11.65" lengthAdjust="spacingAndGlyphs">900</text>
<text x="198.45" y="388.3" font-size="8.5" fill="#111" text-anchor="middle" font-weight="bold" font-style="normal" textLength="67.3" lengthAdjust="spacingAndGlyphs" >Wavelength (nm)</text>
<text transform="translate(104.5,285.9) rotate(-90)" font-size="8.3" font-weight="bold" fill="#111" text-anchor="middle" textLength="126" lengthAdjust="spacingAndGlyphs">Fluorescence intensity (10<tspan font-size="5" dy="-3.7">4</tspan><tspan dy="3.7"> a.u.)</tspan></text>
<line x1="199.9" y1="235.5" x2="216.7" y2="235.5" stroke="#111" stroke-width="0.9" />
<text x="219.1" y="238.1" font-size="7.2" fill="#111" text-anchor="start" font-weight="normal" font-style="normal" >Hexane</text>
<line x1="199.9" y1="244.5" x2="216.7" y2="244.5" stroke="#e0323a" stroke-width="0.9" />
<text x="219.1" y="247.1" font-size="7.2" fill="#111" text-anchor="start" font-weight="normal" font-style="normal" >Toluene</text>
<line x1="199.9" y1="253.5" x2="216.7" y2="253.5" stroke="#3333ff" stroke-width="0.9" />
<text x="219.1" y="256.1" font-size="7.2" fill="#111" text-anchor="start" font-weight="normal" font-style="normal" >EA</text>
<line x1="199.9" y1="262.5" x2="216.7" y2="262.5" stroke="#ff33ff" stroke-width="0.9" />
<text x="219.1" y="265.1" font-size="7.2" fill="#111" text-anchor="start" font-weight="normal" font-style="normal" >THF</text>
<line x1="199.9" y1="271.5" x2="216.7" y2="271.5" stroke="#6aa84f" stroke-width="0.9" />
<text x="219.1" y="274.1" font-size="7.2" fill="#111" text-anchor="start" font-weight="normal" font-style="normal" >DMF</text>
<text x="208.7" y="314.5" font-size="12.5" fill="#111" text-anchor="start" font-weight="normal" font-style="normal" textLength="57.6" lengthAdjust="spacingAndGlyphs" >in Hexane</text>
<path d="M197.2,310.2 L207,310.2 M201.6,305.6 L197,310.2 L201.6,314.8" fill="none" stroke="#111" stroke-width="1"/>
<text x="148" y="352.4" font-size="12.5" fill="#a31f2a" text-anchor="start" font-weight="normal" font-style="normal" textLength="57.2" lengthAdjust="spacingAndGlyphs" >in Toluene</text>
<path d="M177.1,354.1 L182.4,362 M175.4,360.2 L182.4,362 L183.6,356" fill="none" stroke="#a31f2a" stroke-width="1.2"/>
</svg></body></html>
